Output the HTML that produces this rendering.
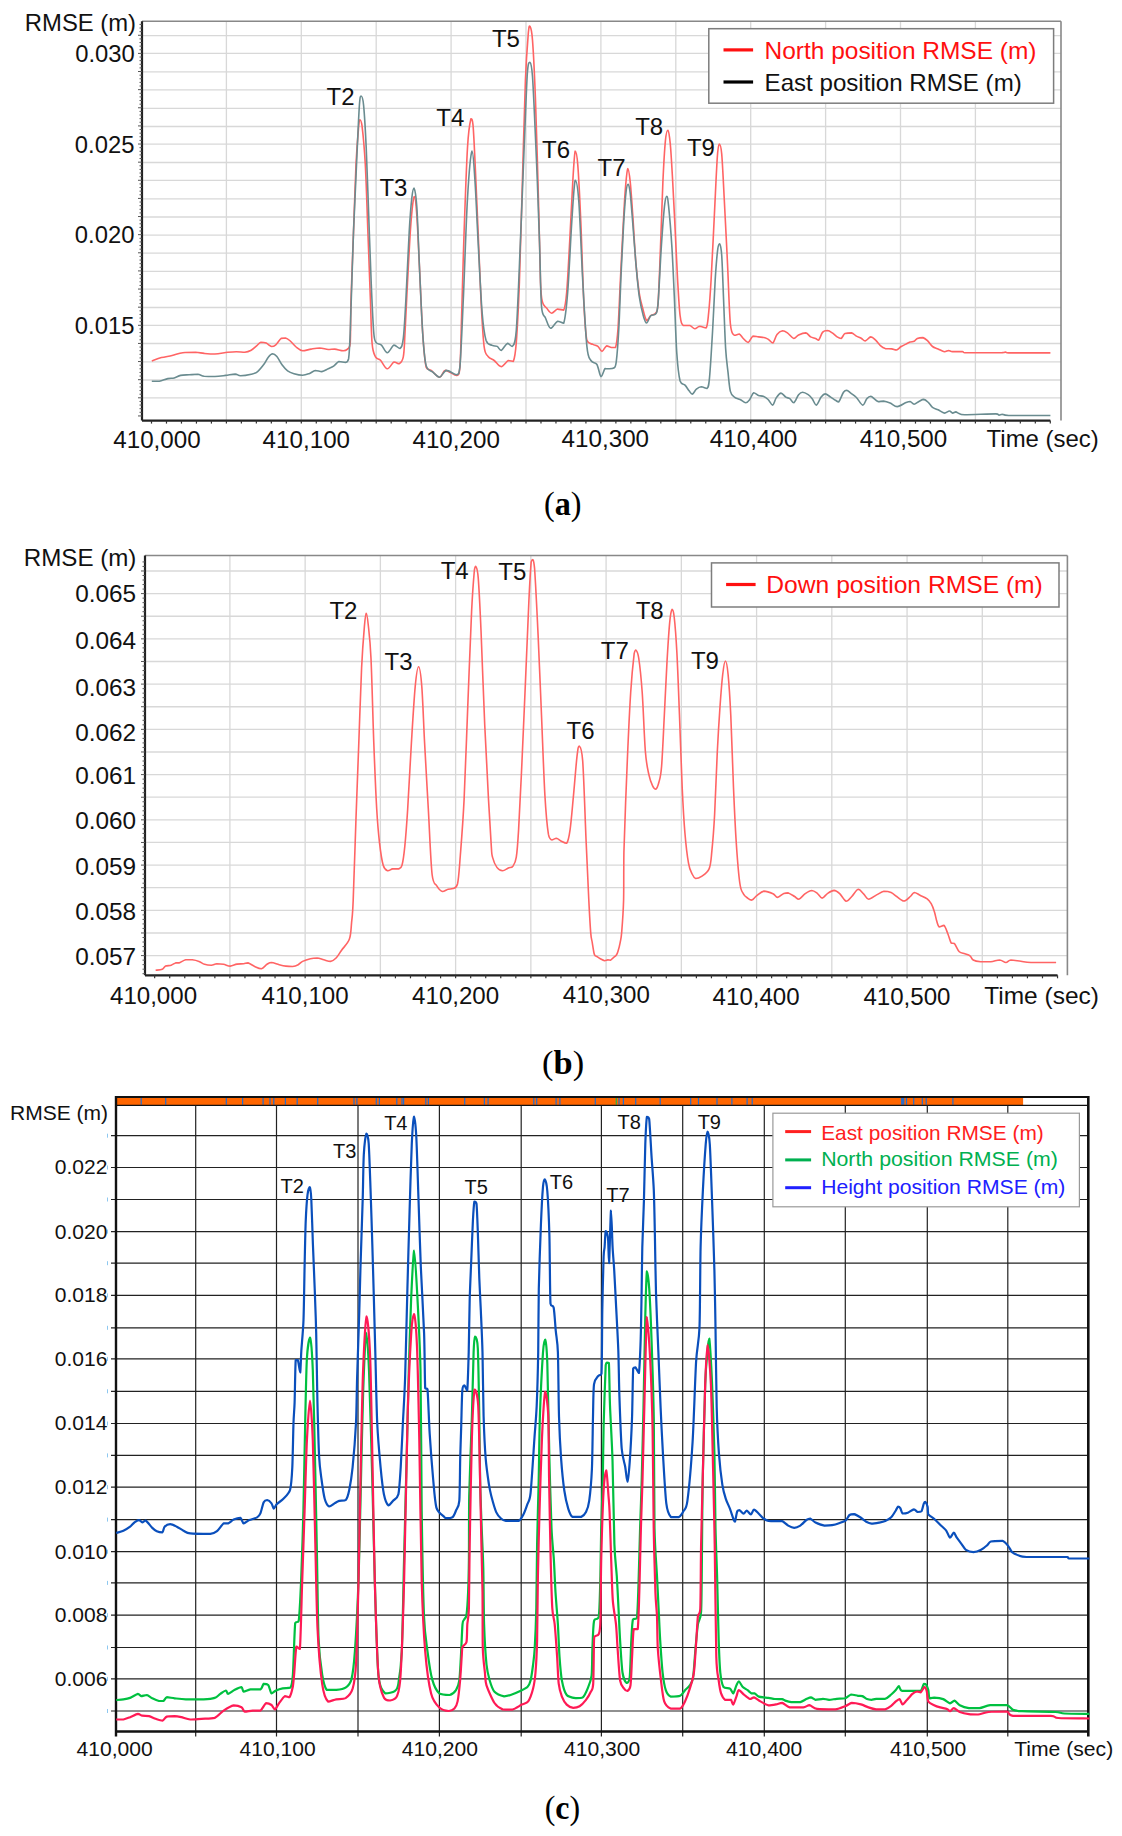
<!DOCTYPE html>
<html><head><meta charset="utf-8"><title>RMSE charts</title>
<style>html,body{margin:0;padding:0;background:#fff;}svg{display:block;}</style></head>
<body>
<svg width="1122" height="1836" viewBox="0 0 1122 1836">
<rect x="0" y="0" width="1122" height="1836" fill="#fff"/>
<line x1="142.00" y1="35.70" x2="1061.00" y2="35.70" stroke="#d8d8d8" stroke-width="1.3"/>
<line x1="142.00" y1="53.40" x2="1061.00" y2="53.40" stroke="#d8d8d8" stroke-width="1.3"/>
<line x1="142.00" y1="71.90" x2="1061.00" y2="71.90" stroke="#d8d8d8" stroke-width="1.3"/>
<line x1="142.00" y1="89.80" x2="1061.00" y2="89.80" stroke="#d8d8d8" stroke-width="1.3"/>
<line x1="142.00" y1="108.30" x2="1061.00" y2="108.30" stroke="#d8d8d8" stroke-width="1.3"/>
<line x1="142.00" y1="126.50" x2="1061.00" y2="126.50" stroke="#d8d8d8" stroke-width="1.3"/>
<line x1="142.00" y1="144.20" x2="1061.00" y2="144.20" stroke="#d8d8d8" stroke-width="1.3"/>
<line x1="142.00" y1="162.50" x2="1061.00" y2="162.50" stroke="#d8d8d8" stroke-width="1.3"/>
<line x1="142.00" y1="180.40" x2="1061.00" y2="180.40" stroke="#d8d8d8" stroke-width="1.3"/>
<line x1="142.00" y1="198.90" x2="1061.00" y2="198.90" stroke="#d8d8d8" stroke-width="1.3"/>
<line x1="142.00" y1="217.00" x2="1061.00" y2="217.00" stroke="#d8d8d8" stroke-width="1.3"/>
<line x1="142.00" y1="235.10" x2="1061.00" y2="235.10" stroke="#d8d8d8" stroke-width="1.3"/>
<line x1="142.00" y1="253.10" x2="1061.00" y2="253.10" stroke="#d8d8d8" stroke-width="1.3"/>
<line x1="142.00" y1="271.30" x2="1061.00" y2="271.30" stroke="#d8d8d8" stroke-width="1.3"/>
<line x1="142.00" y1="289.10" x2="1061.00" y2="289.10" stroke="#d8d8d8" stroke-width="1.3"/>
<line x1="142.00" y1="307.50" x2="1061.00" y2="307.50" stroke="#d8d8d8" stroke-width="1.3"/>
<line x1="142.00" y1="325.30" x2="1061.00" y2="325.30" stroke="#d8d8d8" stroke-width="1.3"/>
<line x1="142.00" y1="343.50" x2="1061.00" y2="343.50" stroke="#d8d8d8" stroke-width="1.3"/>
<line x1="142.00" y1="361.90" x2="1061.00" y2="361.90" stroke="#d8d8d8" stroke-width="1.3"/>
<line x1="142.00" y1="380.00" x2="1061.00" y2="380.00" stroke="#d8d8d8" stroke-width="1.3"/>
<line x1="142.00" y1="397.90" x2="1061.00" y2="397.90" stroke="#d8d8d8" stroke-width="1.3"/>
<line x1="226.40" y1="21.20" x2="226.40" y2="420.60" stroke="#d8d8d8" stroke-width="1.3"/>
<line x1="301.30" y1="21.20" x2="301.30" y2="420.60" stroke="#d8d8d8" stroke-width="1.3"/>
<line x1="376.20" y1="21.20" x2="376.20" y2="420.60" stroke="#d8d8d8" stroke-width="1.3"/>
<line x1="451.10" y1="21.20" x2="451.10" y2="420.60" stroke="#d8d8d8" stroke-width="1.3"/>
<line x1="526.00" y1="21.20" x2="526.00" y2="420.60" stroke="#d8d8d8" stroke-width="1.3"/>
<line x1="600.90" y1="21.20" x2="600.90" y2="420.60" stroke="#d8d8d8" stroke-width="1.3"/>
<line x1="675.80" y1="21.20" x2="675.80" y2="420.60" stroke="#d8d8d8" stroke-width="1.3"/>
<line x1="750.70" y1="21.20" x2="750.70" y2="420.60" stroke="#d8d8d8" stroke-width="1.3"/>
<line x1="825.60" y1="21.20" x2="825.60" y2="420.60" stroke="#d8d8d8" stroke-width="1.3"/>
<line x1="900.50" y1="21.20" x2="900.50" y2="420.60" stroke="#d8d8d8" stroke-width="1.3"/>
<line x1="975.40" y1="21.20" x2="975.40" y2="420.60" stroke="#d8d8d8" stroke-width="1.3"/>
<line x1="142.00" y1="21.20" x2="1061.00" y2="21.20" stroke="#888" stroke-width="1.6"/>
<line x1="1061.00" y1="21.20" x2="1061.00" y2="420.60" stroke="#888" stroke-width="1.6"/>
<line x1="142.00" y1="21.20" x2="142.00" y2="420.60" stroke="#222" stroke-width="2.2"/>
<line x1="142.00" y1="420.60" x2="1050.30" y2="420.60" stroke="#222" stroke-width="2.2"/>
<line x1="151.50" y1="420.60" x2="151.50" y2="423.60" stroke="#333" stroke-width="1.2"/>
<line x1="166.48" y1="420.60" x2="166.48" y2="423.60" stroke="#333" stroke-width="1.2"/>
<line x1="181.46" y1="420.60" x2="181.46" y2="423.60" stroke="#333" stroke-width="1.2"/>
<line x1="196.44" y1="420.60" x2="196.44" y2="423.60" stroke="#333" stroke-width="1.2"/>
<line x1="211.42" y1="420.60" x2="211.42" y2="423.60" stroke="#333" stroke-width="1.2"/>
<line x1="226.40" y1="420.60" x2="226.40" y2="423.60" stroke="#333" stroke-width="1.2"/>
<line x1="241.38" y1="420.60" x2="241.38" y2="423.60" stroke="#333" stroke-width="1.2"/>
<line x1="256.36" y1="420.60" x2="256.36" y2="423.60" stroke="#333" stroke-width="1.2"/>
<line x1="271.34" y1="420.60" x2="271.34" y2="423.60" stroke="#333" stroke-width="1.2"/>
<line x1="286.32" y1="420.60" x2="286.32" y2="423.60" stroke="#333" stroke-width="1.2"/>
<line x1="301.30" y1="420.60" x2="301.30" y2="423.60" stroke="#333" stroke-width="1.2"/>
<line x1="316.28" y1="420.60" x2="316.28" y2="423.60" stroke="#333" stroke-width="1.2"/>
<line x1="331.26" y1="420.60" x2="331.26" y2="423.60" stroke="#333" stroke-width="1.2"/>
<line x1="346.24" y1="420.60" x2="346.24" y2="423.60" stroke="#333" stroke-width="1.2"/>
<line x1="361.22" y1="420.60" x2="361.22" y2="423.60" stroke="#333" stroke-width="1.2"/>
<line x1="376.20" y1="420.60" x2="376.20" y2="423.60" stroke="#333" stroke-width="1.2"/>
<line x1="391.18" y1="420.60" x2="391.18" y2="423.60" stroke="#333" stroke-width="1.2"/>
<line x1="406.16" y1="420.60" x2="406.16" y2="423.60" stroke="#333" stroke-width="1.2"/>
<line x1="421.14" y1="420.60" x2="421.14" y2="423.60" stroke="#333" stroke-width="1.2"/>
<line x1="436.12" y1="420.60" x2="436.12" y2="423.60" stroke="#333" stroke-width="1.2"/>
<line x1="451.10" y1="420.60" x2="451.10" y2="423.60" stroke="#333" stroke-width="1.2"/>
<line x1="466.08" y1="420.60" x2="466.08" y2="423.60" stroke="#333" stroke-width="1.2"/>
<line x1="481.06" y1="420.60" x2="481.06" y2="423.60" stroke="#333" stroke-width="1.2"/>
<line x1="496.04" y1="420.60" x2="496.04" y2="423.60" stroke="#333" stroke-width="1.2"/>
<line x1="511.02" y1="420.60" x2="511.02" y2="423.60" stroke="#333" stroke-width="1.2"/>
<line x1="526.00" y1="420.60" x2="526.00" y2="423.60" stroke="#333" stroke-width="1.2"/>
<line x1="540.98" y1="420.60" x2="540.98" y2="423.60" stroke="#333" stroke-width="1.2"/>
<line x1="555.96" y1="420.60" x2="555.96" y2="423.60" stroke="#333" stroke-width="1.2"/>
<line x1="570.94" y1="420.60" x2="570.94" y2="423.60" stroke="#333" stroke-width="1.2"/>
<line x1="585.92" y1="420.60" x2="585.92" y2="423.60" stroke="#333" stroke-width="1.2"/>
<line x1="600.90" y1="420.60" x2="600.90" y2="423.60" stroke="#333" stroke-width="1.2"/>
<line x1="615.88" y1="420.60" x2="615.88" y2="423.60" stroke="#333" stroke-width="1.2"/>
<line x1="630.86" y1="420.60" x2="630.86" y2="423.60" stroke="#333" stroke-width="1.2"/>
<line x1="645.84" y1="420.60" x2="645.84" y2="423.60" stroke="#333" stroke-width="1.2"/>
<line x1="660.82" y1="420.60" x2="660.82" y2="423.60" stroke="#333" stroke-width="1.2"/>
<line x1="675.80" y1="420.60" x2="675.80" y2="423.60" stroke="#333" stroke-width="1.2"/>
<line x1="690.78" y1="420.60" x2="690.78" y2="423.60" stroke="#333" stroke-width="1.2"/>
<line x1="705.76" y1="420.60" x2="705.76" y2="423.60" stroke="#333" stroke-width="1.2"/>
<line x1="720.74" y1="420.60" x2="720.74" y2="423.60" stroke="#333" stroke-width="1.2"/>
<line x1="735.72" y1="420.60" x2="735.72" y2="423.60" stroke="#333" stroke-width="1.2"/>
<line x1="750.70" y1="420.60" x2="750.70" y2="423.60" stroke="#333" stroke-width="1.2"/>
<line x1="765.68" y1="420.60" x2="765.68" y2="423.60" stroke="#333" stroke-width="1.2"/>
<line x1="780.66" y1="420.60" x2="780.66" y2="423.60" stroke="#333" stroke-width="1.2"/>
<line x1="795.64" y1="420.60" x2="795.64" y2="423.60" stroke="#333" stroke-width="1.2"/>
<line x1="810.62" y1="420.60" x2="810.62" y2="423.60" stroke="#333" stroke-width="1.2"/>
<line x1="825.60" y1="420.60" x2="825.60" y2="423.60" stroke="#333" stroke-width="1.2"/>
<line x1="840.58" y1="420.60" x2="840.58" y2="423.60" stroke="#333" stroke-width="1.2"/>
<line x1="855.56" y1="420.60" x2="855.56" y2="423.60" stroke="#333" stroke-width="1.2"/>
<line x1="870.54" y1="420.60" x2="870.54" y2="423.60" stroke="#333" stroke-width="1.2"/>
<line x1="885.52" y1="420.60" x2="885.52" y2="423.60" stroke="#333" stroke-width="1.2"/>
<line x1="900.50" y1="420.60" x2="900.50" y2="423.60" stroke="#333" stroke-width="1.2"/>
<line x1="915.48" y1="420.60" x2="915.48" y2="423.60" stroke="#333" stroke-width="1.2"/>
<line x1="930.46" y1="420.60" x2="930.46" y2="423.60" stroke="#333" stroke-width="1.2"/>
<line x1="945.44" y1="420.60" x2="945.44" y2="423.60" stroke="#333" stroke-width="1.2"/>
<line x1="960.42" y1="420.60" x2="960.42" y2="423.60" stroke="#333" stroke-width="1.2"/>
<line x1="975.40" y1="420.60" x2="975.40" y2="423.60" stroke="#333" stroke-width="1.2"/>
<line x1="990.38" y1="420.60" x2="990.38" y2="423.60" stroke="#333" stroke-width="1.2"/>
<line x1="1005.36" y1="420.60" x2="1005.36" y2="423.60" stroke="#333" stroke-width="1.2"/>
<line x1="1020.34" y1="420.60" x2="1020.34" y2="423.60" stroke="#333" stroke-width="1.2"/>
<line x1="1035.32" y1="420.60" x2="1035.32" y2="423.60" stroke="#333" stroke-width="1.2"/>
<line x1="1050.30" y1="420.60" x2="1050.30" y2="423.60" stroke="#333" stroke-width="1.2"/>
<line x1="138.00" y1="415.94" x2="142.00" y2="415.94" stroke="#555" stroke-width="1.0"/>
<line x1="139.50" y1="412.31" x2="142.00" y2="412.31" stroke="#555" stroke-width="1.0"/>
<line x1="139.50" y1="408.69" x2="142.00" y2="408.69" stroke="#555" stroke-width="1.0"/>
<line x1="139.50" y1="405.06" x2="142.00" y2="405.06" stroke="#555" stroke-width="1.0"/>
<line x1="139.50" y1="401.44" x2="142.00" y2="401.44" stroke="#555" stroke-width="1.0"/>
<line x1="138.00" y1="397.81" x2="142.00" y2="397.81" stroke="#555" stroke-width="1.0"/>
<line x1="139.50" y1="394.19" x2="142.00" y2="394.19" stroke="#555" stroke-width="1.0"/>
<line x1="139.50" y1="390.56" x2="142.00" y2="390.56" stroke="#555" stroke-width="1.0"/>
<line x1="139.50" y1="386.94" x2="142.00" y2="386.94" stroke="#555" stroke-width="1.0"/>
<line x1="139.50" y1="383.31" x2="142.00" y2="383.31" stroke="#555" stroke-width="1.0"/>
<line x1="138.00" y1="379.69" x2="142.00" y2="379.69" stroke="#555" stroke-width="1.0"/>
<line x1="139.50" y1="376.06" x2="142.00" y2="376.06" stroke="#555" stroke-width="1.0"/>
<line x1="139.50" y1="372.44" x2="142.00" y2="372.44" stroke="#555" stroke-width="1.0"/>
<line x1="139.50" y1="368.81" x2="142.00" y2="368.81" stroke="#555" stroke-width="1.0"/>
<line x1="139.50" y1="365.18" x2="142.00" y2="365.18" stroke="#555" stroke-width="1.0"/>
<line x1="138.00" y1="361.56" x2="142.00" y2="361.56" stroke="#555" stroke-width="1.0"/>
<line x1="139.50" y1="357.93" x2="142.00" y2="357.93" stroke="#555" stroke-width="1.0"/>
<line x1="139.50" y1="354.31" x2="142.00" y2="354.31" stroke="#555" stroke-width="1.0"/>
<line x1="139.50" y1="350.68" x2="142.00" y2="350.68" stroke="#555" stroke-width="1.0"/>
<line x1="139.50" y1="347.06" x2="142.00" y2="347.06" stroke="#555" stroke-width="1.0"/>
<line x1="138.00" y1="343.43" x2="142.00" y2="343.43" stroke="#555" stroke-width="1.0"/>
<line x1="139.50" y1="339.81" x2="142.00" y2="339.81" stroke="#555" stroke-width="1.0"/>
<line x1="139.50" y1="336.18" x2="142.00" y2="336.18" stroke="#555" stroke-width="1.0"/>
<line x1="139.50" y1="332.56" x2="142.00" y2="332.56" stroke="#555" stroke-width="1.0"/>
<line x1="139.50" y1="328.93" x2="142.00" y2="328.93" stroke="#555" stroke-width="1.0"/>
<line x1="138.00" y1="325.30" x2="142.00" y2="325.30" stroke="#555" stroke-width="1.0"/>
<line x1="139.50" y1="321.68" x2="142.00" y2="321.68" stroke="#555" stroke-width="1.0"/>
<line x1="139.50" y1="318.05" x2="142.00" y2="318.05" stroke="#555" stroke-width="1.0"/>
<line x1="139.50" y1="314.43" x2="142.00" y2="314.43" stroke="#555" stroke-width="1.0"/>
<line x1="139.50" y1="310.80" x2="142.00" y2="310.80" stroke="#555" stroke-width="1.0"/>
<line x1="138.00" y1="307.18" x2="142.00" y2="307.18" stroke="#555" stroke-width="1.0"/>
<line x1="139.50" y1="303.55" x2="142.00" y2="303.55" stroke="#555" stroke-width="1.0"/>
<line x1="139.50" y1="299.93" x2="142.00" y2="299.93" stroke="#555" stroke-width="1.0"/>
<line x1="139.50" y1="296.30" x2="142.00" y2="296.30" stroke="#555" stroke-width="1.0"/>
<line x1="139.50" y1="292.68" x2="142.00" y2="292.68" stroke="#555" stroke-width="1.0"/>
<line x1="138.00" y1="289.05" x2="142.00" y2="289.05" stroke="#555" stroke-width="1.0"/>
<line x1="139.50" y1="285.43" x2="142.00" y2="285.43" stroke="#555" stroke-width="1.0"/>
<line x1="139.50" y1="281.80" x2="142.00" y2="281.80" stroke="#555" stroke-width="1.0"/>
<line x1="139.50" y1="278.17" x2="142.00" y2="278.17" stroke="#555" stroke-width="1.0"/>
<line x1="139.50" y1="274.55" x2="142.00" y2="274.55" stroke="#555" stroke-width="1.0"/>
<line x1="138.00" y1="270.92" x2="142.00" y2="270.92" stroke="#555" stroke-width="1.0"/>
<line x1="139.50" y1="267.30" x2="142.00" y2="267.30" stroke="#555" stroke-width="1.0"/>
<line x1="139.50" y1="263.67" x2="142.00" y2="263.67" stroke="#555" stroke-width="1.0"/>
<line x1="139.50" y1="260.05" x2="142.00" y2="260.05" stroke="#555" stroke-width="1.0"/>
<line x1="139.50" y1="256.42" x2="142.00" y2="256.42" stroke="#555" stroke-width="1.0"/>
<line x1="138.00" y1="252.80" x2="142.00" y2="252.80" stroke="#555" stroke-width="1.0"/>
<line x1="139.50" y1="249.17" x2="142.00" y2="249.17" stroke="#555" stroke-width="1.0"/>
<line x1="139.50" y1="245.55" x2="142.00" y2="245.55" stroke="#555" stroke-width="1.0"/>
<line x1="139.50" y1="241.92" x2="142.00" y2="241.92" stroke="#555" stroke-width="1.0"/>
<line x1="139.50" y1="238.30" x2="142.00" y2="238.30" stroke="#555" stroke-width="1.0"/>
<line x1="138.00" y1="234.67" x2="142.00" y2="234.67" stroke="#555" stroke-width="1.0"/>
<line x1="139.50" y1="231.04" x2="142.00" y2="231.04" stroke="#555" stroke-width="1.0"/>
<line x1="139.50" y1="227.42" x2="142.00" y2="227.42" stroke="#555" stroke-width="1.0"/>
<line x1="139.50" y1="223.79" x2="142.00" y2="223.79" stroke="#555" stroke-width="1.0"/>
<line x1="139.50" y1="220.17" x2="142.00" y2="220.17" stroke="#555" stroke-width="1.0"/>
<line x1="138.00" y1="216.54" x2="142.00" y2="216.54" stroke="#555" stroke-width="1.0"/>
<line x1="139.50" y1="212.92" x2="142.00" y2="212.92" stroke="#555" stroke-width="1.0"/>
<line x1="139.50" y1="209.29" x2="142.00" y2="209.29" stroke="#555" stroke-width="1.0"/>
<line x1="139.50" y1="205.67" x2="142.00" y2="205.67" stroke="#555" stroke-width="1.0"/>
<line x1="139.50" y1="202.04" x2="142.00" y2="202.04" stroke="#555" stroke-width="1.0"/>
<line x1="138.00" y1="198.42" x2="142.00" y2="198.42" stroke="#555" stroke-width="1.0"/>
<line x1="139.50" y1="194.79" x2="142.00" y2="194.79" stroke="#555" stroke-width="1.0"/>
<line x1="139.50" y1="191.17" x2="142.00" y2="191.17" stroke="#555" stroke-width="1.0"/>
<line x1="139.50" y1="187.54" x2="142.00" y2="187.54" stroke="#555" stroke-width="1.0"/>
<line x1="139.50" y1="183.91" x2="142.00" y2="183.91" stroke="#555" stroke-width="1.0"/>
<line x1="138.00" y1="180.29" x2="142.00" y2="180.29" stroke="#555" stroke-width="1.0"/>
<line x1="139.50" y1="176.66" x2="142.00" y2="176.66" stroke="#555" stroke-width="1.0"/>
<line x1="139.50" y1="173.04" x2="142.00" y2="173.04" stroke="#555" stroke-width="1.0"/>
<line x1="139.50" y1="169.41" x2="142.00" y2="169.41" stroke="#555" stroke-width="1.0"/>
<line x1="139.50" y1="165.79" x2="142.00" y2="165.79" stroke="#555" stroke-width="1.0"/>
<line x1="138.00" y1="162.16" x2="142.00" y2="162.16" stroke="#555" stroke-width="1.0"/>
<line x1="139.50" y1="158.54" x2="142.00" y2="158.54" stroke="#555" stroke-width="1.0"/>
<line x1="139.50" y1="154.91" x2="142.00" y2="154.91" stroke="#555" stroke-width="1.0"/>
<line x1="139.50" y1="151.29" x2="142.00" y2="151.29" stroke="#555" stroke-width="1.0"/>
<line x1="139.50" y1="147.66" x2="142.00" y2="147.66" stroke="#555" stroke-width="1.0"/>
<line x1="138.00" y1="144.03" x2="142.00" y2="144.03" stroke="#555" stroke-width="1.0"/>
<line x1="139.50" y1="140.41" x2="142.00" y2="140.41" stroke="#555" stroke-width="1.0"/>
<line x1="139.50" y1="136.78" x2="142.00" y2="136.78" stroke="#555" stroke-width="1.0"/>
<line x1="139.50" y1="133.16" x2="142.00" y2="133.16" stroke="#555" stroke-width="1.0"/>
<line x1="139.50" y1="129.53" x2="142.00" y2="129.53" stroke="#555" stroke-width="1.0"/>
<line x1="138.00" y1="125.91" x2="142.00" y2="125.91" stroke="#555" stroke-width="1.0"/>
<line x1="139.50" y1="122.28" x2="142.00" y2="122.28" stroke="#555" stroke-width="1.0"/>
<line x1="139.50" y1="118.66" x2="142.00" y2="118.66" stroke="#555" stroke-width="1.0"/>
<line x1="139.50" y1="115.03" x2="142.00" y2="115.03" stroke="#555" stroke-width="1.0"/>
<line x1="139.50" y1="111.41" x2="142.00" y2="111.41" stroke="#555" stroke-width="1.0"/>
<line x1="138.00" y1="107.78" x2="142.00" y2="107.78" stroke="#555" stroke-width="1.0"/>
<line x1="139.50" y1="104.16" x2="142.00" y2="104.16" stroke="#555" stroke-width="1.0"/>
<line x1="139.50" y1="100.53" x2="142.00" y2="100.53" stroke="#555" stroke-width="1.0"/>
<line x1="139.50" y1="96.90" x2="142.00" y2="96.90" stroke="#555" stroke-width="1.0"/>
<line x1="139.50" y1="93.28" x2="142.00" y2="93.28" stroke="#555" stroke-width="1.0"/>
<line x1="138.00" y1="89.65" x2="142.00" y2="89.65" stroke="#555" stroke-width="1.0"/>
<line x1="139.50" y1="86.03" x2="142.00" y2="86.03" stroke="#555" stroke-width="1.0"/>
<line x1="139.50" y1="82.40" x2="142.00" y2="82.40" stroke="#555" stroke-width="1.0"/>
<line x1="139.50" y1="78.78" x2="142.00" y2="78.78" stroke="#555" stroke-width="1.0"/>
<line x1="139.50" y1="75.15" x2="142.00" y2="75.15" stroke="#555" stroke-width="1.0"/>
<line x1="138.00" y1="71.53" x2="142.00" y2="71.53" stroke="#555" stroke-width="1.0"/>
<line x1="139.50" y1="67.90" x2="142.00" y2="67.90" stroke="#555" stroke-width="1.0"/>
<line x1="139.50" y1="64.28" x2="142.00" y2="64.28" stroke="#555" stroke-width="1.0"/>
<line x1="139.50" y1="60.65" x2="142.00" y2="60.65" stroke="#555" stroke-width="1.0"/>
<line x1="139.50" y1="57.03" x2="142.00" y2="57.03" stroke="#555" stroke-width="1.0"/>
<line x1="138.00" y1="53.40" x2="142.00" y2="53.40" stroke="#555" stroke-width="1.0"/>
<line x1="139.50" y1="49.77" x2="142.00" y2="49.77" stroke="#555" stroke-width="1.0"/>
<line x1="139.50" y1="46.15" x2="142.00" y2="46.15" stroke="#555" stroke-width="1.0"/>
<line x1="139.50" y1="42.52" x2="142.00" y2="42.52" stroke="#555" stroke-width="1.0"/>
<line x1="139.50" y1="38.90" x2="142.00" y2="38.90" stroke="#555" stroke-width="1.0"/>
<line x1="138.00" y1="35.27" x2="142.00" y2="35.27" stroke="#555" stroke-width="1.0"/>
<line x1="139.50" y1="31.65" x2="142.00" y2="31.65" stroke="#555" stroke-width="1.0"/>
<line x1="139.50" y1="28.02" x2="142.00" y2="28.02" stroke="#555" stroke-width="1.0"/>
<line x1="139.50" y1="24.40" x2="142.00" y2="24.40" stroke="#555" stroke-width="1.0"/>
<path d="M151.80,360.90C153.40,360.35 158.02,358.50 161.40,357.60C164.78,356.70 168.53,356.32 172.10,355.50C175.67,354.68 178.88,353.23 182.80,352.70C186.72,352.30 192.03,352.30 195.60,352.30C199.17,352.42 200.98,353.12 204.20,353.40C207.42,353.68 210.98,354.00 214.90,354.00C218.82,353.82 224.13,352.68 227.70,352.30C231.27,351.92 233.45,351.70 236.30,351.70C239.15,351.70 242.32,352.30 244.80,352.30C247.28,352.05 249.23,351.27 251.20,350.20C253.17,349.13 254.98,347.23 256.60,345.90C258.22,344.57 259.30,342.67 260.90,342.20C262.50,342.20 264.42,342.38 266.20,343.10C267.98,343.82 270.00,346.22 271.60,346.50C273.20,346.50 274.20,346.15 275.80,344.80C277.40,343.45 279.58,339.53 281.20,338.40C282.82,338.00 284.08,338.00 285.50,338.00C286.92,338.35 287.93,339.00 289.70,340.50C291.47,342.00 293.95,345.28 296.10,347.00C298.25,348.72 300.10,350.45 302.60,350.80C305.10,350.80 308.25,349.57 311.10,349.10C313.95,348.63 316.85,348.00 319.70,348.00C322.55,348.07 325.70,349.32 328.20,349.50C330.70,349.50 332.20,349.10 334.70,349.10C337.20,349.32 341.07,350.80 343.20,350.80C345.33,350.80 346.33,350.33 347.50,349.10C348.67,347.87 349.62,349.10 350.20,343.40C350.78,335.13 350.45,318.07 351.00,299.50C351.55,280.93 352.67,254.52 353.50,232.00C354.33,209.48 355.15,181.85 356.00,164.40C356.85,146.95 357.95,134.75 358.60,127.30C359.25,119.85 359.33,119.98 359.90,119.70C360.47,119.70 361.10,119.70 362.00,125.60C362.90,133.05 364.32,146.67 365.30,164.40C366.28,182.13 367.05,209.48 367.90,232.00C368.75,254.52 369.70,280.93 370.40,299.50C371.10,318.07 371.25,333.83 372.10,343.40C372.95,352.97 374.10,354.08 375.50,356.90C376.90,359.72 378.53,358.32 380.50,360.30C382.47,362.28 385.05,368.52 387.30,368.80C389.55,368.80 392.03,362.85 394.00,362.00C395.97,362.00 397.55,363.70 399.10,363.70C400.65,362.85 402.32,361.97 403.30,356.90C404.28,351.83 404.30,345.68 405.00,333.30C405.70,320.92 406.52,300.90 407.50,282.60C408.48,264.30 409.77,237.85 410.90,223.50C412.03,209.15 413.32,197.90 414.30,196.50C415.28,196.50 415.95,203.57 416.80,215.10C417.65,226.63 418.42,246.00 419.40,265.70C420.38,285.40 421.58,316.40 422.70,333.30C423.82,350.20 424.68,360.92 426.10,367.10C427.52,370.40 428.95,368.72 431.20,370.40C433.45,372.08 437.22,377.20 439.60,377.20C441.98,377.20 442.68,370.68 445.50,370.40C448.32,370.40 454.10,375.50 456.50,375.50C458.90,374.95 459.05,375.50 459.90,367.10C460.75,357.25 460.90,338.92 461.60,316.40C462.30,293.88 463.12,260.15 464.10,232.00C465.08,203.85 466.37,166.37 467.50,147.50C468.63,128.63 469.98,122.58 470.90,118.80C471.82,118.80 472.32,118.80 473.00,124.80C473.68,131.83 474.15,143.20 475.00,161.00C475.85,178.80 477.08,208.08 478.10,231.60C479.12,255.12 480.10,282.97 481.10,302.10C482.10,321.23 482.93,337.33 484.10,346.40C485.27,355.47 486.42,354.15 488.10,356.50C489.78,358.85 492.02,358.82 494.20,360.50C496.38,362.18 498.85,366.60 501.20,366.60C503.55,366.60 506.28,361.35 508.30,360.50C510.32,360.50 511.97,361.50 513.30,361.50C514.63,358.48 515.28,355.67 516.30,342.40C517.32,329.13 518.38,308.77 519.40,281.90C520.42,255.03 521.40,214.78 522.40,181.20C523.40,147.62 524.40,105.25 525.40,80.40C526.40,55.55 527.67,41.17 528.40,32.10C529.13,26.00 529.12,26.00 529.80,26.00C530.48,27.33 531.55,27.67 532.50,40.10C533.45,52.53 534.50,73.73 535.50,100.60C536.50,127.47 537.67,171.08 538.50,201.30C539.33,231.52 539.83,265.10 540.50,281.90C541.17,298.70 541.48,297.73 542.50,302.10C543.52,306.47 545.08,306.25 546.60,308.10C548.12,309.95 549.77,313.03 551.60,313.20C553.43,313.20 555.58,309.62 557.60,309.10C559.62,309.10 562.18,310.10 563.70,310.10C565.22,307.25 565.70,303.42 566.70,292.00C567.70,280.58 568.68,260.07 569.70,241.60C570.72,223.13 571.88,196.30 572.80,181.20C573.72,166.10 574.37,153.68 575.20,151.00C576.03,151.00 576.87,153.35 577.80,165.10C578.73,176.85 579.80,198.67 580.80,221.50C581.80,244.33 582.78,282.28 583.80,302.10C584.82,321.92 585.38,333.35 586.90,340.40C588.42,344.40 591.07,343.40 592.90,344.40C594.73,345.40 596.38,345.23 597.90,346.40C599.42,347.57 600.57,351.40 602.00,351.40C603.43,351.32 604.93,346.55 606.50,345.90C608.07,345.90 609.90,347.23 611.40,347.50C612.90,347.50 614.40,347.50 615.50,347.50C616.60,344.38 617.18,340.10 618.00,328.80C618.82,317.50 619.58,296.05 620.40,279.70C621.22,263.35 622.08,245.67 622.90,230.70C623.72,215.73 624.48,200.25 625.30,189.90C626.12,179.55 626.98,169.97 627.80,168.60C628.62,168.60 629.38,174.07 630.20,181.70C631.02,189.33 631.75,200.78 632.70,214.40C633.65,228.02 634.82,250.33 635.90,263.40C636.98,276.47 638.10,285.45 639.20,292.80C640.30,300.15 641.27,302.87 642.50,307.50C643.73,312.13 645.23,319.23 646.60,320.60C647.97,320.60 649.20,316.93 650.70,315.70C652.20,314.47 654.38,315.12 655.60,313.20C656.82,311.28 657.18,313.20 658.00,304.20C658.82,293.18 659.68,267.52 660.50,247.10C661.32,226.68 662.08,199.42 662.90,181.70C663.72,163.98 664.58,149.38 665.40,140.80C666.22,132.22 666.98,130.20 667.80,130.20C668.62,130.75 669.48,135.52 670.30,144.10C671.12,152.68 671.88,167.27 672.70,181.70C673.52,196.13 674.38,214.37 675.20,230.70C676.02,247.03 676.78,265.53 677.60,279.70C678.42,293.87 679.15,308.07 680.10,315.70C681.05,323.33 681.67,323.87 683.30,325.50C684.93,325.50 687.98,325.50 689.90,325.50C691.82,326.05 693.17,328.67 694.80,328.80C696.43,328.80 697.80,326.45 699.70,326.30C701.60,326.30 704.70,327.90 706.20,327.90C707.70,325.58 707.88,320.43 708.70,312.40C709.52,304.37 710.15,296.03 711.10,279.70C712.05,263.37 713.37,234.82 714.40,214.40C715.43,193.98 716.48,168.92 717.30,157.20C718.12,145.48 718.57,144.65 719.30,144.10C720.03,144.10 720.88,144.92 721.70,153.90C722.52,162.88 723.23,179.75 724.20,198.00C725.17,216.25 726.47,242.38 727.50,263.40C728.53,284.42 729.25,312.12 730.40,324.10C731.55,335.30 732.92,333.65 734.40,335.30C735.88,335.30 737.82,334.00 739.30,334.00C740.78,334.53 741.83,337.08 743.30,338.50C744.77,339.92 746.50,342.50 748.10,342.50C749.70,342.10 751.17,337.03 752.90,336.10C754.63,336.10 756.50,336.63 758.50,336.90C760.50,337.17 763.17,337.22 764.90,337.70C766.63,338.18 767.57,338.92 768.90,339.80C770.23,340.68 771.55,343.00 772.90,343.00C774.25,342.12 775.38,336.53 777.00,334.50C778.62,332.47 780.87,331.07 782.60,330.80C784.33,330.80 785.53,331.62 787.40,332.90C789.27,334.18 791.93,338.15 793.80,338.50C795.67,338.50 796.60,335.93 798.60,335.00C800.60,334.07 803.80,332.90 805.80,332.90C807.80,333.22 808.98,335.97 810.60,336.90C812.22,337.83 814.15,337.97 815.50,338.50C816.85,339.03 817.50,340.10 818.70,340.10C819.90,339.03 821.23,333.70 822.70,332.10C824.17,330.50 825.90,330.50 827.50,330.50C829.10,330.63 830.70,331.83 832.30,332.90C833.90,333.97 835.63,335.97 837.10,336.90C838.57,337.83 839.77,338.50 841.10,338.50C842.43,337.92 843.35,334.33 845.10,333.40C846.85,332.90 849.72,332.90 851.60,332.90C853.48,333.35 854.80,335.22 856.40,336.10C858.00,336.98 859.73,337.40 861.20,338.20C862.67,339.00 863.60,340.90 865.20,340.90C866.80,340.68 869.07,337.03 870.80,336.90C872.53,336.90 874.00,338.63 875.60,340.10C877.20,341.57 878.78,344.28 880.40,345.70C882.02,347.12 883.42,348.07 885.30,348.60C887.18,348.90 889.85,348.67 891.70,348.90C893.55,349.13 894.82,350.00 896.40,350.00C897.98,349.60 899.60,347.48 901.20,346.50C902.80,345.52 904.52,344.85 906.00,344.10C907.48,343.35 908.75,342.47 910.10,342.00C911.45,341.53 912.90,341.88 914.10,341.30C915.30,340.72 915.83,339.12 917.30,338.50C918.77,337.88 921.17,337.60 922.90,337.60C924.63,338.00 926.10,339.42 927.70,340.90C929.30,342.38 930.77,345.17 932.50,346.50C934.23,347.83 936.10,348.02 938.10,348.90C940.10,349.78 942.75,351.53 944.50,351.80C946.25,351.80 947.25,350.53 948.60,350.50C949.95,350.50 950.33,351.42 952.60,351.60C954.87,351.60 960.20,351.60 962.20,351.60C964.20,351.78 962.20,352.53 964.60,352.70C971.28,352.70 995.48,352.70 1002.30,352.60C1005.50,352.50 1004.43,352.10 1005.50,352.10C1006.57,352.15 1005.50,352.77 1008.70,352.90C1016.18,352.90 1043.45,352.90 1050.40,352.90" fill="none" stroke="#ff6464" stroke-width="1.6" stroke-linejoin="round"/>
<path d="M151.80,381.20C153.05,381.20 156.63,381.20 159.30,381.20C161.97,380.77 165.32,379.13 167.80,378.60C170.28,378.07 172.07,378.53 174.20,378.00C176.33,377.47 178.10,375.93 180.60,375.40C183.10,374.87 186.33,374.98 189.20,374.80C192.07,374.62 195.30,374.30 197.80,374.30C200.30,374.55 201.35,375.93 204.20,376.30C207.05,376.50 211.33,376.50 214.90,376.50C218.47,376.35 222.22,375.80 225.60,375.40C228.98,375.00 232.72,374.10 235.20,374.10C237.68,374.17 237.83,375.77 240.50,375.80C243.17,375.80 248.35,375.00 251.20,374.30C254.05,373.60 255.45,373.30 257.60,371.60C259.75,369.90 262.32,366.50 264.10,364.10C265.88,361.70 266.88,358.92 268.30,357.20C269.72,355.48 271.17,353.90 272.60,353.80C274.03,353.80 275.30,354.72 276.90,356.60C278.50,358.48 280.42,362.72 282.20,365.10C283.98,367.48 285.63,369.47 287.60,370.90C289.57,372.33 291.50,372.98 294.00,373.70C296.50,374.42 300.10,375.20 302.60,375.20C305.10,375.20 306.87,374.48 309.00,373.70C311.13,372.92 313.27,370.85 315.40,370.50C317.53,370.50 319.67,371.60 321.80,371.60C323.93,371.32 326.23,369.70 328.20,368.80C330.17,367.90 331.82,367.42 333.60,366.20C335.38,364.98 336.95,362.13 338.90,361.50C340.85,361.50 343.68,362.40 345.30,362.40C346.92,361.93 347.77,362.40 348.60,358.70C349.43,353.30 349.48,351.12 350.30,330.00C351.12,308.88 352.40,261.00 353.50,232.00C354.60,203.00 355.92,177.12 356.90,156.00C357.88,134.88 358.70,115.30 359.40,105.30C360.10,96.00 360.40,96.00 361.10,96.00C361.80,96.00 362.75,96.72 363.60,105.30C364.45,113.88 365.35,129.20 366.20,147.50C367.05,165.80 367.87,192.58 368.70,215.10C369.53,237.62 370.35,262.90 371.20,282.60C372.05,302.30 372.95,323.30 373.80,333.30C374.65,342.60 375.03,340.63 376.30,342.60C377.57,344.57 379.57,343.42 381.40,345.10C383.23,346.78 385.20,352.70 387.30,352.70C389.40,352.70 391.90,345.80 394.00,345.10C396.10,345.10 398.35,348.50 399.90,348.50C401.45,347.38 402.30,346.57 403.30,338.40C404.30,330.23 404.92,317.23 405.90,299.50C406.88,281.77 408.22,248.88 409.20,232.00C410.18,215.12 411.00,205.52 411.80,198.20C412.60,190.88 413.17,188.10 414.00,188.10C414.83,189.50 415.90,193.67 416.80,206.60C417.70,219.53 418.42,244.58 419.40,265.70C420.38,286.82 421.58,316.68 422.70,333.30C423.82,349.92 424.40,358.93 426.10,365.40C427.80,371.87 430.65,370.13 432.90,372.10C435.15,374.07 437.35,377.20 439.60,377.20C441.85,376.92 443.58,370.82 446.40,370.40C449.22,370.40 454.25,374.70 456.50,374.70C458.75,374.15 458.77,374.70 459.90,367.10C461.03,354.57 462.03,327.65 463.30,299.50C464.57,271.35 466.05,222.95 467.50,198.20C468.95,173.45 470.75,153.83 472.00,151.00C473.25,151.00 473.98,166.10 475.00,181.20C476.02,196.30 476.92,219.77 478.10,241.60C479.28,263.43 480.77,295.73 482.10,312.20C483.43,328.67 484.42,334.87 486.10,340.40C487.78,345.40 490.35,344.40 492.20,345.40C494.05,346.40 495.70,345.57 497.20,346.40C498.70,347.23 499.52,350.40 501.20,350.40C502.88,349.90 505.45,344.07 507.30,343.40C509.15,343.40 510.80,346.40 512.30,346.40C513.80,344.22 514.95,346.40 516.30,330.30C517.65,312.83 519.05,273.17 520.40,241.60C521.75,210.03 523.23,169.10 524.40,140.90C525.57,112.70 526.50,85.50 527.40,72.40C528.30,62.30 528.95,62.30 529.80,62.30C530.65,62.97 531.38,62.30 532.50,76.40C533.62,92.85 535.33,133.47 536.50,161.00C537.67,188.53 538.67,217.42 539.50,241.60C540.33,265.78 540.48,293.33 541.50,306.10C542.52,318.20 544.08,314.50 545.60,318.20C547.12,321.90 548.60,327.80 550.60,328.30C552.60,328.30 555.42,322.05 557.60,321.20C559.78,321.20 562.02,323.20 563.70,323.20C565.38,318.33 566.35,308.95 567.70,292.00C569.05,275.05 570.55,240.13 571.80,221.50C573.05,202.87 574.03,183.57 575.20,180.20C576.37,180.20 577.53,184.35 578.80,201.30C580.07,218.25 581.45,257.72 582.80,281.90C584.15,306.08 585.55,333.30 586.90,346.40C588.25,359.50 589.23,357.48 590.90,360.50C592.57,363.52 595.22,361.82 596.90,364.50C598.58,367.18 599.65,375.92 601.00,376.60C602.35,376.60 603.80,369.90 605.00,368.60C606.20,368.60 606.72,368.80 608.20,368.80C609.68,368.70 612.55,368.80 613.90,368.00C615.25,366.77 615.48,367.93 616.30,361.40C617.12,354.87 617.98,343.77 618.80,328.80C619.62,313.83 620.38,289.32 621.20,271.60C622.02,253.88 622.88,235.85 623.70,222.50C624.52,209.15 625.37,197.88 626.10,191.50C626.83,185.12 627.42,184.20 628.10,184.20C628.78,184.47 629.43,186.72 630.20,193.10C630.97,199.48 631.75,210.78 632.70,222.50C633.65,234.22 634.82,251.13 635.90,263.40C636.98,275.67 637.97,287.38 639.20,296.10C640.43,304.82 642.07,311.22 643.30,315.70C644.53,320.18 645.37,323.00 646.60,323.00C647.83,323.00 649.20,317.18 650.70,315.70C652.20,314.22 654.38,315.70 655.60,314.10C656.82,312.18 657.05,314.10 658.00,304.20C658.95,293.03 660.22,263.43 661.30,247.10C662.38,230.77 663.60,214.65 664.50,206.20C665.40,197.75 666.02,196.40 666.70,196.40C667.38,196.40 667.73,197.75 668.60,206.20C669.47,214.65 670.95,232.12 671.90,247.10C672.85,262.08 673.48,278.40 674.30,296.10C675.12,313.80 675.83,339.15 676.80,353.30C677.77,367.45 678.73,375.70 680.10,381.00C681.47,385.10 683.50,383.47 685.00,385.10C686.50,386.73 687.88,389.30 689.10,390.80C690.32,392.30 691.08,394.10 692.30,394.10C693.52,393.83 694.90,390.42 696.40,389.20C697.90,387.98 699.53,386.93 701.30,386.80C703.07,386.80 705.63,388.40 707.00,388.40C708.37,386.90 708.55,387.73 709.50,377.80C710.45,367.87 711.75,345.15 712.70,328.80C713.65,312.45 714.38,292.78 715.20,279.70C716.02,266.62 716.87,256.28 717.60,250.30C718.33,244.32 718.92,243.80 719.60,243.80C720.28,244.62 721.03,245.83 721.70,255.20C722.37,264.57 722.95,284.52 723.60,300.00C724.25,315.48 724.87,336.07 725.60,348.10C726.33,360.13 727.20,364.98 728.00,372.20C728.80,379.42 729.33,387.25 730.40,391.40C731.47,395.55 732.78,395.75 734.40,397.10C736.02,398.45 738.22,398.57 740.10,399.50C741.98,400.43 744.10,402.70 745.70,402.70C747.30,402.70 748.37,401.17 749.70,399.50C751.03,397.83 752.23,393.37 753.70,392.70C755.17,392.70 756.90,394.90 758.50,395.50C760.10,396.10 761.70,395.63 763.30,396.30C764.90,396.97 766.55,398.03 768.10,399.50C769.65,400.97 771.25,405.10 772.60,405.10C773.95,404.83 774.80,399.90 776.20,397.90C777.60,395.90 779.40,393.23 781.00,393.10C782.60,393.10 784.33,396.17 785.80,397.10C787.27,398.03 788.47,397.77 789.80,398.70C791.13,399.63 792.33,402.70 793.80,402.70C795.27,402.03 797.13,396.43 798.60,394.70C800.07,392.97 801.00,392.30 802.60,392.30C804.20,392.30 806.60,393.63 808.20,394.70C809.80,395.77 810.85,396.97 812.20,398.70C813.55,400.43 814.82,405.10 816.30,405.10C817.78,404.83 819.63,398.97 821.10,397.10C822.57,395.23 823.50,393.90 825.10,393.90C826.70,393.90 828.97,396.03 830.70,397.10C832.43,398.17 834.17,399.50 835.50,400.30C836.83,401.10 837.37,401.90 838.70,401.90C840.03,400.57 842.17,394.25 843.50,392.30C844.83,390.35 845.48,390.20 846.70,390.20C847.92,390.33 849.18,391.88 850.80,393.10C852.42,394.32 854.40,395.50 856.40,397.50C858.40,399.50 861.07,404.90 862.80,405.10C864.53,405.10 865.47,400.17 866.80,398.70C868.13,397.23 868.93,396.30 870.80,396.30C872.67,396.78 875.87,400.80 878.00,401.60C880.13,401.60 881.58,401.10 883.60,401.10C885.62,401.33 887.83,402.08 890.10,403.00C892.37,403.92 894.55,406.60 897.20,406.60C899.85,406.53 903.85,403.45 906.00,402.60C908.15,401.75 908.75,401.50 910.10,401.50C911.45,401.77 912.63,404.20 914.10,404.20C915.57,404.20 917.30,402.30 918.90,401.50C920.50,400.70 922.10,399.40 923.70,399.40C925.30,399.58 927.03,401.27 928.50,402.60C929.97,403.93 930.90,406.20 932.50,407.40C934.10,408.60 936.10,408.85 938.10,409.80C940.10,410.75 942.62,412.90 944.50,413.10C946.38,413.10 948.05,411.00 949.40,411.00C950.75,411.00 951.53,412.95 952.60,413.10C953.67,413.10 954.73,411.90 955.80,411.90C956.87,411.97 957.53,413.03 959.00,413.50C960.47,413.97 959.00,414.63 964.60,414.70C970.75,414.70 990.15,413.90 995.90,413.90C999.10,413.97 998.03,415.05 999.10,415.10C1000.17,415.10 1000.70,414.20 1002.30,414.20C1003.90,414.27 1002.30,415.28 1008.70,415.50C1016.72,415.50 1043.45,415.50 1050.40,415.50" fill="none" stroke="#6a8c90" stroke-width="1.6" stroke-linejoin="round"/>
<rect x="708.8" y="28.7" width="344.8" height="74.5" fill="#fff" stroke="#7d7d7d" stroke-width="1.5"/>
<line x1="723.50" y1="49.90" x2="753.10" y2="49.90" stroke="#ff1010" stroke-width="3.2"/>
<line x1="723.50" y1="82.00" x2="753.10" y2="82.00" stroke="#000" stroke-width="3.2"/>
<line x1="145.00" y1="955.60" x2="1067.40" y2="955.60" stroke="#d8d8d8" stroke-width="1.3"/>
<line x1="145.00" y1="932.98" x2="1067.40" y2="932.98" stroke="#d8d8d8" stroke-width="1.3"/>
<line x1="145.00" y1="910.35" x2="1067.40" y2="910.35" stroke="#d8d8d8" stroke-width="1.3"/>
<line x1="145.00" y1="887.72" x2="1067.40" y2="887.72" stroke="#d8d8d8" stroke-width="1.3"/>
<line x1="145.00" y1="865.10" x2="1067.40" y2="865.10" stroke="#d8d8d8" stroke-width="1.3"/>
<line x1="145.00" y1="842.47" x2="1067.40" y2="842.47" stroke="#d8d8d8" stroke-width="1.3"/>
<line x1="145.00" y1="819.85" x2="1067.40" y2="819.85" stroke="#d8d8d8" stroke-width="1.3"/>
<line x1="145.00" y1="797.22" x2="1067.40" y2="797.22" stroke="#d8d8d8" stroke-width="1.3"/>
<line x1="145.00" y1="774.60" x2="1067.40" y2="774.60" stroke="#d8d8d8" stroke-width="1.3"/>
<line x1="145.00" y1="751.98" x2="1067.40" y2="751.98" stroke="#d8d8d8" stroke-width="1.3"/>
<line x1="145.00" y1="729.35" x2="1067.40" y2="729.35" stroke="#d8d8d8" stroke-width="1.3"/>
<line x1="145.00" y1="706.73" x2="1067.40" y2="706.73" stroke="#d8d8d8" stroke-width="1.3"/>
<line x1="145.00" y1="684.10" x2="1067.40" y2="684.10" stroke="#d8d8d8" stroke-width="1.3"/>
<line x1="145.00" y1="661.48" x2="1067.40" y2="661.48" stroke="#d8d8d8" stroke-width="1.3"/>
<line x1="145.00" y1="638.85" x2="1067.40" y2="638.85" stroke="#d8d8d8" stroke-width="1.3"/>
<line x1="145.00" y1="616.23" x2="1067.40" y2="616.23" stroke="#d8d8d8" stroke-width="1.3"/>
<line x1="145.00" y1="593.60" x2="1067.40" y2="593.60" stroke="#d8d8d8" stroke-width="1.3"/>
<line x1="145.00" y1="570.98" x2="1067.40" y2="570.98" stroke="#d8d8d8" stroke-width="1.3"/>
<line x1="229.90" y1="555.50" x2="229.90" y2="975.30" stroke="#d8d8d8" stroke-width="1.3"/>
<line x1="305.14" y1="555.50" x2="305.14" y2="975.30" stroke="#d8d8d8" stroke-width="1.3"/>
<line x1="380.38" y1="555.50" x2="380.38" y2="975.30" stroke="#d8d8d8" stroke-width="1.3"/>
<line x1="455.62" y1="555.50" x2="455.62" y2="975.30" stroke="#d8d8d8" stroke-width="1.3"/>
<line x1="530.86" y1="555.50" x2="530.86" y2="975.30" stroke="#d8d8d8" stroke-width="1.3"/>
<line x1="606.10" y1="555.50" x2="606.10" y2="975.30" stroke="#d8d8d8" stroke-width="1.3"/>
<line x1="681.34" y1="555.50" x2="681.34" y2="975.30" stroke="#d8d8d8" stroke-width="1.3"/>
<line x1="756.58" y1="555.50" x2="756.58" y2="975.30" stroke="#d8d8d8" stroke-width="1.3"/>
<line x1="831.82" y1="555.50" x2="831.82" y2="975.30" stroke="#d8d8d8" stroke-width="1.3"/>
<line x1="907.06" y1="555.50" x2="907.06" y2="975.30" stroke="#d8d8d8" stroke-width="1.3"/>
<line x1="982.30" y1="555.50" x2="982.30" y2="975.30" stroke="#d8d8d8" stroke-width="1.3"/>
<line x1="145.00" y1="555.50" x2="1067.40" y2="555.50" stroke="#888" stroke-width="1.6"/>
<line x1="1067.40" y1="555.50" x2="1067.40" y2="975.30" stroke="#888" stroke-width="1.6"/>
<line x1="145.00" y1="555.50" x2="145.00" y2="975.30" stroke="#222" stroke-width="2.2"/>
<line x1="145.00" y1="975.30" x2="1057.54" y2="975.30" stroke="#222" stroke-width="2.2"/>
<line x1="154.66" y1="975.30" x2="154.66" y2="978.30" stroke="#333" stroke-width="1.2"/>
<line x1="169.71" y1="975.30" x2="169.71" y2="978.30" stroke="#333" stroke-width="1.2"/>
<line x1="184.76" y1="975.30" x2="184.76" y2="978.30" stroke="#333" stroke-width="1.2"/>
<line x1="199.80" y1="975.30" x2="199.80" y2="978.30" stroke="#333" stroke-width="1.2"/>
<line x1="214.85" y1="975.30" x2="214.85" y2="978.30" stroke="#333" stroke-width="1.2"/>
<line x1="229.90" y1="975.30" x2="229.90" y2="978.30" stroke="#333" stroke-width="1.2"/>
<line x1="244.95" y1="975.30" x2="244.95" y2="978.30" stroke="#333" stroke-width="1.2"/>
<line x1="260.00" y1="975.30" x2="260.00" y2="978.30" stroke="#333" stroke-width="1.2"/>
<line x1="275.04" y1="975.30" x2="275.04" y2="978.30" stroke="#333" stroke-width="1.2"/>
<line x1="290.09" y1="975.30" x2="290.09" y2="978.30" stroke="#333" stroke-width="1.2"/>
<line x1="305.14" y1="975.30" x2="305.14" y2="978.30" stroke="#333" stroke-width="1.2"/>
<line x1="320.19" y1="975.30" x2="320.19" y2="978.30" stroke="#333" stroke-width="1.2"/>
<line x1="335.24" y1="975.30" x2="335.24" y2="978.30" stroke="#333" stroke-width="1.2"/>
<line x1="350.28" y1="975.30" x2="350.28" y2="978.30" stroke="#333" stroke-width="1.2"/>
<line x1="365.33" y1="975.30" x2="365.33" y2="978.30" stroke="#333" stroke-width="1.2"/>
<line x1="380.38" y1="975.30" x2="380.38" y2="978.30" stroke="#333" stroke-width="1.2"/>
<line x1="395.43" y1="975.30" x2="395.43" y2="978.30" stroke="#333" stroke-width="1.2"/>
<line x1="410.48" y1="975.30" x2="410.48" y2="978.30" stroke="#333" stroke-width="1.2"/>
<line x1="425.52" y1="975.30" x2="425.52" y2="978.30" stroke="#333" stroke-width="1.2"/>
<line x1="440.57" y1="975.30" x2="440.57" y2="978.30" stroke="#333" stroke-width="1.2"/>
<line x1="455.62" y1="975.30" x2="455.62" y2="978.30" stroke="#333" stroke-width="1.2"/>
<line x1="470.67" y1="975.30" x2="470.67" y2="978.30" stroke="#333" stroke-width="1.2"/>
<line x1="485.72" y1="975.30" x2="485.72" y2="978.30" stroke="#333" stroke-width="1.2"/>
<line x1="500.76" y1="975.30" x2="500.76" y2="978.30" stroke="#333" stroke-width="1.2"/>
<line x1="515.81" y1="975.30" x2="515.81" y2="978.30" stroke="#333" stroke-width="1.2"/>
<line x1="530.86" y1="975.30" x2="530.86" y2="978.30" stroke="#333" stroke-width="1.2"/>
<line x1="545.91" y1="975.30" x2="545.91" y2="978.30" stroke="#333" stroke-width="1.2"/>
<line x1="560.96" y1="975.30" x2="560.96" y2="978.30" stroke="#333" stroke-width="1.2"/>
<line x1="576.00" y1="975.30" x2="576.00" y2="978.30" stroke="#333" stroke-width="1.2"/>
<line x1="591.05" y1="975.30" x2="591.05" y2="978.30" stroke="#333" stroke-width="1.2"/>
<line x1="606.10" y1="975.30" x2="606.10" y2="978.30" stroke="#333" stroke-width="1.2"/>
<line x1="621.15" y1="975.30" x2="621.15" y2="978.30" stroke="#333" stroke-width="1.2"/>
<line x1="636.20" y1="975.30" x2="636.20" y2="978.30" stroke="#333" stroke-width="1.2"/>
<line x1="651.24" y1="975.30" x2="651.24" y2="978.30" stroke="#333" stroke-width="1.2"/>
<line x1="666.29" y1="975.30" x2="666.29" y2="978.30" stroke="#333" stroke-width="1.2"/>
<line x1="681.34" y1="975.30" x2="681.34" y2="978.30" stroke="#333" stroke-width="1.2"/>
<line x1="696.39" y1="975.30" x2="696.39" y2="978.30" stroke="#333" stroke-width="1.2"/>
<line x1="711.44" y1="975.30" x2="711.44" y2="978.30" stroke="#333" stroke-width="1.2"/>
<line x1="726.48" y1="975.30" x2="726.48" y2="978.30" stroke="#333" stroke-width="1.2"/>
<line x1="741.53" y1="975.30" x2="741.53" y2="978.30" stroke="#333" stroke-width="1.2"/>
<line x1="756.58" y1="975.30" x2="756.58" y2="978.30" stroke="#333" stroke-width="1.2"/>
<line x1="771.63" y1="975.30" x2="771.63" y2="978.30" stroke="#333" stroke-width="1.2"/>
<line x1="786.68" y1="975.30" x2="786.68" y2="978.30" stroke="#333" stroke-width="1.2"/>
<line x1="801.72" y1="975.30" x2="801.72" y2="978.30" stroke="#333" stroke-width="1.2"/>
<line x1="816.77" y1="975.30" x2="816.77" y2="978.30" stroke="#333" stroke-width="1.2"/>
<line x1="831.82" y1="975.30" x2="831.82" y2="978.30" stroke="#333" stroke-width="1.2"/>
<line x1="846.87" y1="975.30" x2="846.87" y2="978.30" stroke="#333" stroke-width="1.2"/>
<line x1="861.92" y1="975.30" x2="861.92" y2="978.30" stroke="#333" stroke-width="1.2"/>
<line x1="876.96" y1="975.30" x2="876.96" y2="978.30" stroke="#333" stroke-width="1.2"/>
<line x1="892.01" y1="975.30" x2="892.01" y2="978.30" stroke="#333" stroke-width="1.2"/>
<line x1="907.06" y1="975.30" x2="907.06" y2="978.30" stroke="#333" stroke-width="1.2"/>
<line x1="922.11" y1="975.30" x2="922.11" y2="978.30" stroke="#333" stroke-width="1.2"/>
<line x1="937.16" y1="975.30" x2="937.16" y2="978.30" stroke="#333" stroke-width="1.2"/>
<line x1="952.20" y1="975.30" x2="952.20" y2="978.30" stroke="#333" stroke-width="1.2"/>
<line x1="967.25" y1="975.30" x2="967.25" y2="978.30" stroke="#333" stroke-width="1.2"/>
<line x1="982.30" y1="975.30" x2="982.30" y2="978.30" stroke="#333" stroke-width="1.2"/>
<line x1="997.35" y1="975.30" x2="997.35" y2="978.30" stroke="#333" stroke-width="1.2"/>
<line x1="1012.40" y1="975.30" x2="1012.40" y2="978.30" stroke="#333" stroke-width="1.2"/>
<line x1="1027.44" y1="975.30" x2="1027.44" y2="978.30" stroke="#333" stroke-width="1.2"/>
<line x1="1042.49" y1="975.30" x2="1042.49" y2="978.30" stroke="#333" stroke-width="1.2"/>
<line x1="1057.54" y1="975.30" x2="1057.54" y2="978.30" stroke="#333" stroke-width="1.2"/>
<line x1="142.50" y1="973.70" x2="145.00" y2="973.70" stroke="#555" stroke-width="1.0"/>
<line x1="142.50" y1="969.18" x2="145.00" y2="969.18" stroke="#555" stroke-width="1.0"/>
<line x1="142.50" y1="964.65" x2="145.00" y2="964.65" stroke="#555" stroke-width="1.0"/>
<line x1="142.50" y1="960.13" x2="145.00" y2="960.13" stroke="#555" stroke-width="1.0"/>
<line x1="141.00" y1="955.60" x2="145.00" y2="955.60" stroke="#555" stroke-width="1.0"/>
<line x1="142.50" y1="951.07" x2="145.00" y2="951.07" stroke="#555" stroke-width="1.0"/>
<line x1="142.50" y1="946.55" x2="145.00" y2="946.55" stroke="#555" stroke-width="1.0"/>
<line x1="142.50" y1="942.02" x2="145.00" y2="942.02" stroke="#555" stroke-width="1.0"/>
<line x1="142.50" y1="937.50" x2="145.00" y2="937.50" stroke="#555" stroke-width="1.0"/>
<line x1="141.00" y1="932.98" x2="145.00" y2="932.98" stroke="#555" stroke-width="1.0"/>
<line x1="142.50" y1="928.45" x2="145.00" y2="928.45" stroke="#555" stroke-width="1.0"/>
<line x1="142.50" y1="923.93" x2="145.00" y2="923.93" stroke="#555" stroke-width="1.0"/>
<line x1="142.50" y1="919.40" x2="145.00" y2="919.40" stroke="#555" stroke-width="1.0"/>
<line x1="142.50" y1="914.88" x2="145.00" y2="914.88" stroke="#555" stroke-width="1.0"/>
<line x1="141.00" y1="910.35" x2="145.00" y2="910.35" stroke="#555" stroke-width="1.0"/>
<line x1="142.50" y1="905.83" x2="145.00" y2="905.83" stroke="#555" stroke-width="1.0"/>
<line x1="142.50" y1="901.30" x2="145.00" y2="901.30" stroke="#555" stroke-width="1.0"/>
<line x1="142.50" y1="896.77" x2="145.00" y2="896.77" stroke="#555" stroke-width="1.0"/>
<line x1="142.50" y1="892.25" x2="145.00" y2="892.25" stroke="#555" stroke-width="1.0"/>
<line x1="141.00" y1="887.72" x2="145.00" y2="887.72" stroke="#555" stroke-width="1.0"/>
<line x1="142.50" y1="883.20" x2="145.00" y2="883.20" stroke="#555" stroke-width="1.0"/>
<line x1="142.50" y1="878.67" x2="145.00" y2="878.67" stroke="#555" stroke-width="1.0"/>
<line x1="142.50" y1="874.15" x2="145.00" y2="874.15" stroke="#555" stroke-width="1.0"/>
<line x1="142.50" y1="869.62" x2="145.00" y2="869.62" stroke="#555" stroke-width="1.0"/>
<line x1="141.00" y1="865.10" x2="145.00" y2="865.10" stroke="#555" stroke-width="1.0"/>
<line x1="142.50" y1="860.58" x2="145.00" y2="860.58" stroke="#555" stroke-width="1.0"/>
<line x1="142.50" y1="856.05" x2="145.00" y2="856.05" stroke="#555" stroke-width="1.0"/>
<line x1="142.50" y1="851.53" x2="145.00" y2="851.53" stroke="#555" stroke-width="1.0"/>
<line x1="142.50" y1="847.00" x2="145.00" y2="847.00" stroke="#555" stroke-width="1.0"/>
<line x1="141.00" y1="842.47" x2="145.00" y2="842.47" stroke="#555" stroke-width="1.0"/>
<line x1="142.50" y1="837.95" x2="145.00" y2="837.95" stroke="#555" stroke-width="1.0"/>
<line x1="142.50" y1="833.42" x2="145.00" y2="833.42" stroke="#555" stroke-width="1.0"/>
<line x1="142.50" y1="828.90" x2="145.00" y2="828.90" stroke="#555" stroke-width="1.0"/>
<line x1="142.50" y1="824.38" x2="145.00" y2="824.38" stroke="#555" stroke-width="1.0"/>
<line x1="141.00" y1="819.85" x2="145.00" y2="819.85" stroke="#555" stroke-width="1.0"/>
<line x1="142.50" y1="815.33" x2="145.00" y2="815.33" stroke="#555" stroke-width="1.0"/>
<line x1="142.50" y1="810.80" x2="145.00" y2="810.80" stroke="#555" stroke-width="1.0"/>
<line x1="142.50" y1="806.28" x2="145.00" y2="806.28" stroke="#555" stroke-width="1.0"/>
<line x1="142.50" y1="801.75" x2="145.00" y2="801.75" stroke="#555" stroke-width="1.0"/>
<line x1="141.00" y1="797.23" x2="145.00" y2="797.23" stroke="#555" stroke-width="1.0"/>
<line x1="142.50" y1="792.70" x2="145.00" y2="792.70" stroke="#555" stroke-width="1.0"/>
<line x1="142.50" y1="788.17" x2="145.00" y2="788.17" stroke="#555" stroke-width="1.0"/>
<line x1="142.50" y1="783.65" x2="145.00" y2="783.65" stroke="#555" stroke-width="1.0"/>
<line x1="142.50" y1="779.12" x2="145.00" y2="779.12" stroke="#555" stroke-width="1.0"/>
<line x1="141.00" y1="774.60" x2="145.00" y2="774.60" stroke="#555" stroke-width="1.0"/>
<line x1="142.50" y1="770.08" x2="145.00" y2="770.08" stroke="#555" stroke-width="1.0"/>
<line x1="142.50" y1="765.55" x2="145.00" y2="765.55" stroke="#555" stroke-width="1.0"/>
<line x1="142.50" y1="761.03" x2="145.00" y2="761.03" stroke="#555" stroke-width="1.0"/>
<line x1="142.50" y1="756.50" x2="145.00" y2="756.50" stroke="#555" stroke-width="1.0"/>
<line x1="141.00" y1="751.98" x2="145.00" y2="751.98" stroke="#555" stroke-width="1.0"/>
<line x1="142.50" y1="747.45" x2="145.00" y2="747.45" stroke="#555" stroke-width="1.0"/>
<line x1="142.50" y1="742.92" x2="145.00" y2="742.92" stroke="#555" stroke-width="1.0"/>
<line x1="142.50" y1="738.40" x2="145.00" y2="738.40" stroke="#555" stroke-width="1.0"/>
<line x1="142.50" y1="733.88" x2="145.00" y2="733.88" stroke="#555" stroke-width="1.0"/>
<line x1="141.00" y1="729.35" x2="145.00" y2="729.35" stroke="#555" stroke-width="1.0"/>
<line x1="142.50" y1="724.83" x2="145.00" y2="724.83" stroke="#555" stroke-width="1.0"/>
<line x1="142.50" y1="720.30" x2="145.00" y2="720.30" stroke="#555" stroke-width="1.0"/>
<line x1="142.50" y1="715.78" x2="145.00" y2="715.78" stroke="#555" stroke-width="1.0"/>
<line x1="142.50" y1="711.25" x2="145.00" y2="711.25" stroke="#555" stroke-width="1.0"/>
<line x1="141.00" y1="706.73" x2="145.00" y2="706.73" stroke="#555" stroke-width="1.0"/>
<line x1="142.50" y1="702.20" x2="145.00" y2="702.20" stroke="#555" stroke-width="1.0"/>
<line x1="142.50" y1="697.67" x2="145.00" y2="697.67" stroke="#555" stroke-width="1.0"/>
<line x1="142.50" y1="693.15" x2="145.00" y2="693.15" stroke="#555" stroke-width="1.0"/>
<line x1="142.50" y1="688.63" x2="145.00" y2="688.63" stroke="#555" stroke-width="1.0"/>
<line x1="141.00" y1="684.10" x2="145.00" y2="684.10" stroke="#555" stroke-width="1.0"/>
<line x1="142.50" y1="679.57" x2="145.00" y2="679.57" stroke="#555" stroke-width="1.0"/>
<line x1="142.50" y1="675.05" x2="145.00" y2="675.05" stroke="#555" stroke-width="1.0"/>
<line x1="142.50" y1="670.53" x2="145.00" y2="670.53" stroke="#555" stroke-width="1.0"/>
<line x1="142.50" y1="666.00" x2="145.00" y2="666.00" stroke="#555" stroke-width="1.0"/>
<line x1="141.00" y1="661.48" x2="145.00" y2="661.48" stroke="#555" stroke-width="1.0"/>
<line x1="142.50" y1="656.95" x2="145.00" y2="656.95" stroke="#555" stroke-width="1.0"/>
<line x1="142.50" y1="652.42" x2="145.00" y2="652.42" stroke="#555" stroke-width="1.0"/>
<line x1="142.50" y1="647.90" x2="145.00" y2="647.90" stroke="#555" stroke-width="1.0"/>
<line x1="142.50" y1="643.38" x2="145.00" y2="643.38" stroke="#555" stroke-width="1.0"/>
<line x1="141.00" y1="638.85" x2="145.00" y2="638.85" stroke="#555" stroke-width="1.0"/>
<line x1="142.50" y1="634.32" x2="145.00" y2="634.32" stroke="#555" stroke-width="1.0"/>
<line x1="142.50" y1="629.80" x2="145.00" y2="629.80" stroke="#555" stroke-width="1.0"/>
<line x1="142.50" y1="625.28" x2="145.00" y2="625.28" stroke="#555" stroke-width="1.0"/>
<line x1="142.50" y1="620.75" x2="145.00" y2="620.75" stroke="#555" stroke-width="1.0"/>
<line x1="141.00" y1="616.23" x2="145.00" y2="616.23" stroke="#555" stroke-width="1.0"/>
<line x1="142.50" y1="611.70" x2="145.00" y2="611.70" stroke="#555" stroke-width="1.0"/>
<line x1="142.50" y1="607.17" x2="145.00" y2="607.17" stroke="#555" stroke-width="1.0"/>
<line x1="142.50" y1="602.65" x2="145.00" y2="602.65" stroke="#555" stroke-width="1.0"/>
<line x1="142.50" y1="598.13" x2="145.00" y2="598.13" stroke="#555" stroke-width="1.0"/>
<line x1="141.00" y1="593.60" x2="145.00" y2="593.60" stroke="#555" stroke-width="1.0"/>
<line x1="142.50" y1="589.07" x2="145.00" y2="589.07" stroke="#555" stroke-width="1.0"/>
<line x1="142.50" y1="584.55" x2="145.00" y2="584.55" stroke="#555" stroke-width="1.0"/>
<line x1="142.50" y1="580.03" x2="145.00" y2="580.03" stroke="#555" stroke-width="1.0"/>
<line x1="142.50" y1="575.50" x2="145.00" y2="575.50" stroke="#555" stroke-width="1.0"/>
<line x1="141.00" y1="570.98" x2="145.00" y2="570.98" stroke="#555" stroke-width="1.0"/>
<line x1="142.50" y1="566.45" x2="145.00" y2="566.45" stroke="#555" stroke-width="1.0"/>
<line x1="142.50" y1="561.92" x2="145.00" y2="561.92" stroke="#555" stroke-width="1.0"/>
<path d="M155.60,970.30C156.72,970.12 160.63,969.90 162.30,969.20C163.97,968.50 164.12,966.77 165.60,966.10C167.08,965.43 169.53,965.73 171.20,965.20C172.87,964.67 174.30,963.28 175.60,962.90C176.90,962.90 177.32,962.90 179.00,962.90C180.68,962.38 183.48,960.32 185.70,959.80C187.92,959.80 190.08,959.80 192.30,959.80C194.52,960.07 196.95,960.65 199.00,961.40C201.05,962.15 202.55,963.67 204.60,964.30C206.65,964.93 209.27,965.20 211.30,965.20C213.33,965.12 214.77,963.95 216.80,963.80C218.83,963.80 221.27,963.92 223.50,964.30C225.73,964.68 227.97,966.10 230.20,966.10C232.43,966.07 234.67,964.48 236.90,964.10C239.13,963.80 241.75,964.00 243.60,963.80C245.45,963.60 246.15,962.90 248.00,962.90C249.85,963.35 252.47,965.53 254.70,966.50C256.93,967.47 259.35,968.70 261.40,968.70C263.45,968.33 265.33,965.33 267.00,964.30C268.67,963.27 269.37,962.50 271.40,962.50C273.43,962.57 276.78,964.10 279.20,964.70C281.62,965.30 283.67,965.80 285.90,966.10C288.13,966.40 290.55,966.50 292.60,966.50C294.65,966.27 296.53,965.55 298.20,964.70C299.87,963.85 300.57,962.40 302.60,961.40C304.63,960.40 307.98,959.27 310.40,958.70C312.82,958.13 314.87,958.00 317.10,958.00C319.33,958.18 321.57,959.23 323.80,959.80C326.03,960.37 328.45,961.40 330.50,961.40C332.55,961.10 334.25,959.87 336.10,958.00C337.95,956.13 339.38,953.35 341.60,950.20C343.82,947.05 347.73,943.73 349.40,939.10C351.07,934.47 350.97,928.90 351.60,922.40C352.23,915.90 352.47,917.47 353.20,900.10C353.93,882.73 355.07,844.38 356.00,818.20C356.93,792.02 357.87,768.07 358.80,743.00C359.73,717.93 360.67,687.23 361.60,667.80C362.53,648.37 363.62,635.48 364.40,626.40C365.18,617.32 365.67,613.62 366.30,613.30C366.93,613.30 367.42,616.98 368.20,624.50C368.98,632.02 370.07,638.65 371.00,658.40C371.93,678.15 372.85,717.93 373.80,743.00C374.75,768.07 375.75,792.20 376.70,808.80C377.65,825.40 378.42,833.20 379.50,842.60C380.58,852.00 381.80,860.50 383.20,865.20C384.60,869.90 386.33,870.18 387.90,870.80C389.47,870.80 390.87,869.22 392.60,868.90C394.33,868.90 396.73,868.90 398.30,868.90C399.87,868.28 400.92,868.90 402.00,865.20C403.08,861.45 403.85,855.80 404.80,846.40C405.75,837.00 406.60,826.03 407.70,808.80C408.80,791.57 410.15,763.37 411.40,743.00C412.65,722.63 414.00,699.30 415.20,686.60C416.40,673.90 417.50,666.80 418.60,666.80C419.70,666.80 420.80,673.90 421.80,686.60C422.80,699.30 423.52,722.63 424.60,743.00C425.68,763.37 427.05,786.88 428.30,808.80C429.55,830.72 430.68,861.67 432.10,874.50C433.52,885.80 435.08,882.97 436.80,885.80C438.52,888.63 440.52,890.93 442.40,891.50C444.28,891.50 446.37,889.68 448.10,889.20C449.83,888.72 451.23,889.20 452.80,888.60C454.37,887.73 456.25,888.60 457.50,884.00C458.75,878.53 459.20,869.90 460.30,855.80C461.40,841.70 462.85,824.47 464.10,799.40C465.35,774.33 466.55,736.73 467.80,705.40C469.05,674.07 470.50,633.97 471.60,611.40C472.70,588.83 473.72,577.52 474.40,570.00C475.08,566.30 475.07,566.30 475.70,566.30C476.33,567.57 477.32,566.95 478.20,577.60C479.08,588.25 479.92,605.77 481.00,630.20C482.08,654.63 483.45,696.00 484.70,724.20C485.95,752.40 487.40,779.03 488.50,799.40C489.60,819.77 490.63,836.78 491.30,846.40C491.97,856.02 491.57,853.60 492.50,857.10C493.43,860.60 495.22,865.12 496.90,867.40C498.58,869.68 500.70,870.70 502.60,870.80C504.50,870.80 506.58,868.77 508.30,868.00C510.02,867.23 511.57,868.00 512.90,866.20C514.23,864.38 515.35,863.20 516.30,857.10C517.25,851.00 517.65,845.62 518.60,829.60C519.55,813.58 520.85,785.78 522.00,761.00C523.15,736.22 524.35,707.60 525.50,680.90C526.65,654.20 527.95,620.63 528.90,600.80C529.85,580.97 530.55,568.77 531.20,561.90C531.85,559.60 532.23,559.60 532.80,559.60C533.37,560.73 533.72,559.60 534.60,568.70C535.48,581.28 536.95,610.68 538.10,635.10C539.25,659.52 540.37,688.50 541.50,715.20C542.63,741.90 543.75,775.47 544.90,795.30C546.05,815.13 547.25,826.77 548.40,834.20C549.55,839.90 550.47,839.22 551.80,839.90C553.13,839.90 554.88,838.30 556.40,838.30C557.92,838.48 559.18,840.17 560.90,841.00C562.62,841.83 565.17,843.30 566.70,843.30C568.23,841.40 568.97,837.60 570.10,829.60C571.23,821.60 572.35,807.50 573.50,795.30C574.65,783.10 576.05,764.60 577.00,756.40C577.95,748.20 578.25,746.10 579.20,746.10C580.15,746.87 581.55,746.10 582.70,761.00C583.85,776.82 585.08,817.83 586.10,841.00C587.12,864.17 588.03,884.73 588.80,900.00C589.57,915.27 590.12,925.47 590.70,932.60C591.28,939.73 591.68,939.15 592.30,942.80C592.92,946.45 593.60,952.18 594.40,954.50C595.20,956.70 596.12,955.98 597.10,956.70C598.08,957.42 599.05,958.13 600.30,958.80C601.55,959.47 603.35,960.52 604.60,960.70C605.85,960.70 606.82,959.98 607.80,959.90C608.78,959.90 609.60,960.20 610.50,960.20C611.40,959.85 612.22,958.65 613.20,957.80C614.18,956.95 615.60,956.18 616.40,955.10C617.20,954.02 617.38,953.35 618.00,951.30C618.62,949.25 619.48,946.00 620.10,942.80C620.72,939.60 621.12,939.23 621.70,932.10C622.28,924.97 623.23,913.27 623.60,900.00C623.90,886.73 623.60,875.67 623.90,852.50C624.52,829.33 626.17,787.70 627.30,761.00C628.43,734.30 629.55,710.23 630.70,692.30C631.85,674.37 633.35,660.45 634.20,653.40C635.05,650.00 635.05,650.00 635.80,650.00C636.55,650.77 637.63,650.95 638.70,658.00C639.77,665.05 641.08,676.67 642.20,692.30C643.32,707.93 644.27,737.98 645.40,751.80C646.53,765.62 647.80,769.52 649.00,775.20C650.20,780.88 651.47,783.57 652.60,785.90C653.73,788.23 654.75,789.20 655.80,789.20C656.85,788.60 657.93,786.13 658.90,782.30C659.87,778.47 660.70,777.28 661.60,766.20C662.50,755.12 663.40,733.18 664.30,715.80C665.20,698.42 666.10,677.47 667.00,661.90C667.90,646.33 668.87,631.15 669.70,622.40C670.53,613.65 671.25,610.30 672.00,609.40C672.75,609.40 673.38,609.75 674.20,617.00C675.02,624.25 676.02,636.43 676.90,652.90C677.78,669.37 678.62,693.33 679.50,715.80C680.38,738.27 681.30,768.22 682.20,787.70C683.10,807.18 683.85,820.12 684.90,832.70C685.95,845.28 687.30,856.32 688.50,863.20C689.70,870.08 690.90,871.45 692.10,874.00C693.30,876.55 694.20,878.05 695.70,878.50C697.20,878.50 698.85,878.35 701.10,876.70C703.35,875.05 707.40,872.93 709.20,868.60C711.00,864.27 711.00,859.68 711.90,850.70C712.80,841.72 713.70,831.18 714.60,814.70C715.50,798.22 716.40,769.78 717.30,751.80C718.20,733.82 719.10,719.68 720.00,706.80C720.90,693.92 721.80,682.13 722.70,674.50C723.60,666.87 724.50,661.00 725.40,661.00C726.30,661.00 727.20,665.37 728.10,674.50C729.00,683.63 729.90,696.93 730.80,715.80C731.70,734.67 732.60,766.72 733.50,787.70C734.40,808.68 735.15,825.82 736.20,841.70C737.25,857.58 738.60,874.32 739.80,883.00C741.00,891.68 742.05,891.25 743.40,893.80C744.75,896.35 746.50,897.25 747.90,898.30C749.30,899.35 750.32,900.10 751.80,900.10C753.28,899.65 754.77,897.10 756.80,895.60C758.83,894.10 761.30,891.40 764.00,891.10C766.70,891.10 770.75,892.75 773.00,893.80C775.25,894.85 775.70,897.40 777.50,897.40C779.30,897.33 782.00,894.15 783.80,893.40C785.60,892.90 786.50,892.90 788.30,892.90C790.10,893.42 792.85,895.45 794.60,896.50C796.35,897.55 797.03,899.20 798.80,899.20C800.57,898.73 803.05,895.15 805.20,893.70C807.35,892.25 809.68,890.57 811.70,890.50C813.72,890.50 815.57,892.03 817.30,893.30C819.03,894.57 820.37,898.10 822.10,898.10C823.83,898.10 825.70,894.58 827.70,893.30C829.70,892.02 832.10,890.40 834.10,890.40C836.10,890.47 837.68,891.88 839.70,893.70C841.72,895.52 844.18,900.83 846.20,901.30C848.22,901.30 849.80,898.50 851.80,896.50C853.80,894.50 856.20,889.70 858.20,889.30C860.20,889.30 862.07,892.45 863.80,894.10C865.53,895.75 866.47,899.07 868.60,899.20C870.73,899.20 874.05,896.22 876.60,894.90C879.15,893.58 881.48,891.70 883.90,891.30C886.32,891.30 888.97,891.63 891.10,892.50C893.23,893.37 894.57,895.08 896.70,896.50C898.83,897.92 901.63,901.00 903.90,901.00C906.17,901.00 908.57,897.92 910.30,896.50C912.03,895.08 912.68,892.72 914.30,892.50C915.92,892.50 917.85,894.13 920.00,895.20C922.15,896.27 925.33,897.48 927.20,898.90C929.07,900.32 930.00,901.57 931.20,903.70C932.40,905.83 933.47,908.77 934.40,911.70C935.33,914.63 936.00,918.75 936.80,921.30C937.60,923.85 938.00,926.32 939.20,927.00C940.40,927.00 942.53,925.40 944.00,925.40C945.47,926.60 946.80,931.27 948.00,934.20C949.20,937.13 950.13,941.45 951.20,943.00C952.27,943.50 953.05,943.00 954.40,943.50C955.75,944.97 957.55,950.10 959.30,951.80C961.05,953.50 963.12,953.03 964.90,953.70C966.68,954.37 968.62,954.75 970.00,955.80C971.38,956.85 971.42,959.00 973.20,960.00C974.98,961.00 977.77,961.50 980.70,961.80C983.63,961.80 987.65,961.80 990.80,961.80C993.95,961.50 997.08,960.00 999.60,960.00C1002.12,960.12 1004.02,962.50 1005.90,962.50C1007.78,962.50 1008.40,960.20 1010.90,960.00C1013.40,960.00 1017.55,960.88 1020.90,961.30C1024.25,961.72 1025.13,962.30 1031.00,962.50C1036.87,962.50 1051.92,962.50 1056.10,962.50" fill="none" stroke="#ff6464" stroke-width="1.6" stroke-linejoin="round"/>
<rect x="711.5" y="562.9" width="347.5" height="44.1" fill="#fff" stroke="#7d7d7d" stroke-width="1.5"/>
<line x1="726.10" y1="584.50" x2="755.60" y2="584.50" stroke="#ff1010" stroke-width="3.2"/>
<rect x="116.0" y="1097.5" width="907.1" height="7.5" fill="#ff6600"/>
<line x1="141.20" y1="1097.80" x2="141.20" y2="1104.80" stroke="#1f6fd6" stroke-width="1.2"/>
<line x1="165.70" y1="1097.80" x2="165.70" y2="1104.80" stroke="#1f6fd6" stroke-width="1.2"/>
<line x1="226.30" y1="1097.80" x2="226.30" y2="1104.80" stroke="#1f6fd6" stroke-width="1.2"/>
<line x1="242.60" y1="1097.80" x2="242.60" y2="1104.80" stroke="#1f6fd6" stroke-width="1.2"/>
<line x1="263.10" y1="1097.80" x2="263.10" y2="1104.80" stroke="#1f6fd6" stroke-width="1.2"/>
<line x1="270.00" y1="1097.80" x2="270.00" y2="1104.80" stroke="#1f6fd6" stroke-width="1.2"/>
<line x1="273.80" y1="1097.80" x2="273.80" y2="1104.80" stroke="#1f6fd6" stroke-width="1.2"/>
<line x1="285.40" y1="1097.80" x2="285.40" y2="1104.80" stroke="#1f6fd6" stroke-width="1.2"/>
<line x1="297.20" y1="1097.80" x2="297.20" y2="1104.80" stroke="#1f6fd6" stroke-width="1.2"/>
<line x1="317.70" y1="1097.80" x2="317.70" y2="1104.80" stroke="#1f6fd6" stroke-width="1.2"/>
<line x1="354.00" y1="1097.80" x2="354.00" y2="1104.80" stroke="#1f6fd6" stroke-width="1.2"/>
<line x1="356.90" y1="1097.80" x2="356.90" y2="1104.80" stroke="#1f6fd6" stroke-width="1.2"/>
<line x1="376.30" y1="1097.80" x2="376.30" y2="1104.80" stroke="#1f6fd6" stroke-width="1.2"/>
<line x1="379.40" y1="1097.80" x2="379.40" y2="1104.80" stroke="#1f6fd6" stroke-width="1.2"/>
<line x1="396.80" y1="1097.80" x2="396.80" y2="1104.80" stroke="#1f6fd6" stroke-width="1.2"/>
<line x1="402.00" y1="1097.80" x2="402.00" y2="1104.80" stroke="#1f6fd6" stroke-width="1.2"/>
<line x1="403.60" y1="1097.80" x2="403.60" y2="1104.80" stroke="#1f6fd6" stroke-width="1.2"/>
<line x1="425.80" y1="1097.80" x2="425.80" y2="1104.80" stroke="#1f6fd6" stroke-width="1.2"/>
<line x1="428.40" y1="1097.80" x2="428.40" y2="1104.80" stroke="#1f6fd6" stroke-width="1.2"/>
<line x1="464.70" y1="1097.80" x2="464.70" y2="1104.80" stroke="#1f6fd6" stroke-width="1.2"/>
<line x1="484.40" y1="1097.80" x2="484.40" y2="1104.80" stroke="#1f6fd6" stroke-width="1.2"/>
<line x1="488.10" y1="1097.80" x2="488.10" y2="1104.80" stroke="#1f6fd6" stroke-width="1.2"/>
<line x1="533.80" y1="1097.80" x2="533.80" y2="1104.80" stroke="#1f6fd6" stroke-width="1.2"/>
<line x1="536.70" y1="1097.80" x2="536.70" y2="1104.80" stroke="#1f6fd6" stroke-width="1.2"/>
<line x1="556.10" y1="1097.80" x2="556.10" y2="1104.80" stroke="#1f6fd6" stroke-width="1.2"/>
<line x1="559.90" y1="1097.80" x2="559.90" y2="1104.80" stroke="#1f6fd6" stroke-width="1.2"/>
<line x1="595.30" y1="1097.80" x2="595.30" y2="1104.80" stroke="#1f6fd6" stroke-width="1.2"/>
<line x1="619.00" y1="1097.80" x2="619.00" y2="1104.80" stroke="#1f6fd6" stroke-width="1.2"/>
<line x1="623.40" y1="1097.80" x2="623.40" y2="1104.80" stroke="#1f6fd6" stroke-width="1.2"/>
<line x1="635.70" y1="1097.80" x2="635.70" y2="1104.80" stroke="#1f6fd6" stroke-width="1.2"/>
<line x1="660.20" y1="1097.80" x2="660.20" y2="1104.80" stroke="#1f6fd6" stroke-width="1.2"/>
<line x1="690.70" y1="1097.80" x2="690.70" y2="1104.80" stroke="#1f6fd6" stroke-width="1.2"/>
<line x1="698.50" y1="1097.80" x2="698.50" y2="1104.80" stroke="#1f6fd6" stroke-width="1.2"/>
<line x1="717.00" y1="1097.80" x2="717.00" y2="1104.80" stroke="#1f6fd6" stroke-width="1.2"/>
<line x1="731.90" y1="1097.80" x2="731.90" y2="1104.80" stroke="#1f6fd6" stroke-width="1.2"/>
<line x1="747.10" y1="1097.80" x2="747.10" y2="1104.80" stroke="#1f6fd6" stroke-width="1.2"/>
<line x1="752.20" y1="1097.80" x2="752.20" y2="1104.80" stroke="#1f6fd6" stroke-width="1.2"/>
<line x1="901.70" y1="1097.80" x2="901.70" y2="1104.80" stroke="#1f6fd6" stroke-width="1.2"/>
<line x1="902.70" y1="1097.80" x2="902.70" y2="1104.80" stroke="#1f6fd6" stroke-width="1.2"/>
<line x1="903.70" y1="1097.80" x2="903.70" y2="1104.80" stroke="#1f6fd6" stroke-width="1.2"/>
<line x1="906.50" y1="1097.80" x2="906.50" y2="1104.80" stroke="#1f6fd6" stroke-width="1.2"/>
<line x1="913.70" y1="1097.80" x2="913.70" y2="1104.80" stroke="#1f6fd6" stroke-width="1.2"/>
<line x1="922.30" y1="1097.80" x2="922.30" y2="1104.80" stroke="#1f6fd6" stroke-width="1.2"/>
<line x1="926.20" y1="1097.80" x2="926.20" y2="1104.80" stroke="#1f6fd6" stroke-width="1.2"/>
<line x1="952.90" y1="1097.80" x2="952.90" y2="1104.80" stroke="#1f6fd6" stroke-width="1.2"/>
<line x1="616.30" y1="1097.80" x2="616.30" y2="1104.80" stroke="#22bb44" stroke-width="1.2"/>
<line x1="116.00" y1="1097.00" x2="1088.30" y2="1097.00" stroke="#111" stroke-width="1.8"/>
<line x1="116.00" y1="1105.40" x2="1088.30" y2="1105.40" stroke="#111" stroke-width="1.4"/>
<line x1="111.00" y1="1135.70" x2="1088.30" y2="1135.70" stroke="#222" stroke-width="1.2"/>
<line x1="111.00" y1="1167.50" x2="1088.30" y2="1167.50" stroke="#222" stroke-width="1.2"/>
<line x1="111.00" y1="1199.50" x2="1088.30" y2="1199.50" stroke="#222" stroke-width="1.2"/>
<line x1="111.00" y1="1231.60" x2="1088.30" y2="1231.60" stroke="#222" stroke-width="1.2"/>
<line x1="111.00" y1="1263.20" x2="1088.30" y2="1263.20" stroke="#222" stroke-width="1.2"/>
<line x1="111.00" y1="1295.40" x2="1088.30" y2="1295.40" stroke="#222" stroke-width="1.2"/>
<line x1="111.00" y1="1327.80" x2="1088.30" y2="1327.80" stroke="#222" stroke-width="1.2"/>
<line x1="111.00" y1="1358.90" x2="1088.30" y2="1358.90" stroke="#222" stroke-width="1.2"/>
<line x1="111.00" y1="1391.30" x2="1088.30" y2="1391.30" stroke="#222" stroke-width="1.2"/>
<line x1="111.00" y1="1423.50" x2="1088.30" y2="1423.50" stroke="#222" stroke-width="1.2"/>
<line x1="111.00" y1="1455.40" x2="1088.30" y2="1455.40" stroke="#222" stroke-width="1.2"/>
<line x1="111.00" y1="1487.20" x2="1088.30" y2="1487.20" stroke="#222" stroke-width="1.2"/>
<line x1="111.00" y1="1519.60" x2="1088.30" y2="1519.60" stroke="#222" stroke-width="1.2"/>
<line x1="111.00" y1="1551.70" x2="1088.30" y2="1551.70" stroke="#222" stroke-width="1.2"/>
<line x1="111.00" y1="1582.90" x2="1088.30" y2="1582.90" stroke="#222" stroke-width="1.2"/>
<line x1="111.00" y1="1615.20" x2="1088.30" y2="1615.20" stroke="#222" stroke-width="1.2"/>
<line x1="111.00" y1="1647.50" x2="1088.30" y2="1647.50" stroke="#222" stroke-width="1.2"/>
<line x1="111.00" y1="1678.90" x2="1088.30" y2="1678.90" stroke="#222" stroke-width="1.2"/>
<line x1="111.00" y1="1711.00" x2="1088.30" y2="1711.00" stroke="#222" stroke-width="1.2"/>
<line x1="195.70" y1="1105.40" x2="195.70" y2="1736.50" stroke="#222" stroke-width="1.2"/>
<line x1="276.50" y1="1105.40" x2="276.50" y2="1736.50" stroke="#222" stroke-width="1.2"/>
<line x1="358.00" y1="1105.40" x2="358.00" y2="1736.50" stroke="#222" stroke-width="1.2"/>
<line x1="439.40" y1="1105.40" x2="439.40" y2="1736.50" stroke="#222" stroke-width="1.2"/>
<line x1="521.20" y1="1105.40" x2="521.20" y2="1736.50" stroke="#222" stroke-width="1.2"/>
<line x1="601.40" y1="1105.40" x2="601.40" y2="1736.50" stroke="#222" stroke-width="1.2"/>
<line x1="682.70" y1="1105.40" x2="682.70" y2="1736.50" stroke="#222" stroke-width="1.2"/>
<line x1="764.30" y1="1105.40" x2="764.30" y2="1736.50" stroke="#222" stroke-width="1.2"/>
<line x1="845.30" y1="1105.40" x2="845.30" y2="1736.50" stroke="#222" stroke-width="1.2"/>
<line x1="927.30" y1="1105.40" x2="927.30" y2="1736.50" stroke="#222" stroke-width="1.2"/>
<line x1="1007.80" y1="1105.40" x2="1007.80" y2="1736.50" stroke="#222" stroke-width="1.2"/>
<line x1="116.00" y1="1096.00" x2="116.00" y2="1736.50" stroke="#111" stroke-width="2.4"/>
<line x1="1088.30" y1="1096.00" x2="1088.30" y2="1736.50" stroke="#111" stroke-width="2.6"/>
<line x1="116.00" y1="1731.50" x2="1088.30" y2="1731.50" stroke="#111" stroke-width="2.4"/>
<line x1="107.50" y1="1133.70" x2="107.50" y2="1137.70" stroke="#8ec8f0" stroke-width="1.0"/>
<line x1="107.50" y1="1165.50" x2="107.50" y2="1169.50" stroke="#8ec8f0" stroke-width="1.0"/>
<line x1="107.50" y1="1197.50" x2="107.50" y2="1201.50" stroke="#8ec8f0" stroke-width="1.0"/>
<line x1="107.50" y1="1229.60" x2="107.50" y2="1233.60" stroke="#8ec8f0" stroke-width="1.0"/>
<line x1="107.50" y1="1261.20" x2="107.50" y2="1265.20" stroke="#8ec8f0" stroke-width="1.0"/>
<line x1="107.50" y1="1293.40" x2="107.50" y2="1297.40" stroke="#8ec8f0" stroke-width="1.0"/>
<line x1="107.50" y1="1325.80" x2="107.50" y2="1329.80" stroke="#8ec8f0" stroke-width="1.0"/>
<line x1="107.50" y1="1356.90" x2="107.50" y2="1360.90" stroke="#8ec8f0" stroke-width="1.0"/>
<line x1="107.50" y1="1389.30" x2="107.50" y2="1393.30" stroke="#8ec8f0" stroke-width="1.0"/>
<line x1="107.50" y1="1421.50" x2="107.50" y2="1425.50" stroke="#8ec8f0" stroke-width="1.0"/>
<line x1="107.50" y1="1453.40" x2="107.50" y2="1457.40" stroke="#8ec8f0" stroke-width="1.0"/>
<line x1="107.50" y1="1485.20" x2="107.50" y2="1489.20" stroke="#8ec8f0" stroke-width="1.0"/>
<line x1="107.50" y1="1517.60" x2="107.50" y2="1521.60" stroke="#8ec8f0" stroke-width="1.0"/>
<line x1="107.50" y1="1549.70" x2="107.50" y2="1553.70" stroke="#8ec8f0" stroke-width="1.0"/>
<line x1="107.50" y1="1580.90" x2="107.50" y2="1584.90" stroke="#8ec8f0" stroke-width="1.0"/>
<line x1="107.50" y1="1613.20" x2="107.50" y2="1617.20" stroke="#8ec8f0" stroke-width="1.0"/>
<line x1="107.50" y1="1645.50" x2="107.50" y2="1649.50" stroke="#8ec8f0" stroke-width="1.0"/>
<line x1="107.50" y1="1676.90" x2="107.50" y2="1680.90" stroke="#8ec8f0" stroke-width="1.0"/>
<line x1="107.50" y1="1709.00" x2="107.50" y2="1713.00" stroke="#8ec8f0" stroke-width="1.0"/>
<path d="M116.20,1533.00C117.16,1532.69 121.55,1531.54 123.40,1530.70C125.25,1529.86 128.62,1527.82 130.10,1526.70C131.58,1525.58 133.31,1523.18 134.50,1522.30C135.69,1521.42 137.96,1520.10 139.00,1520.10C140.04,1520.10 141.41,1522.25 142.30,1522.30C143.19,1522.30 144.37,1520.50 145.70,1520.50C147.03,1521.25 150.82,1526.47 152.30,1527.90C153.78,1529.33 155.45,1530.61 156.80,1531.20C158.15,1531.79 161.36,1532.30 162.40,1532.30C163.44,1531.70 163.56,1527.79 164.60,1526.70C165.64,1525.61 168.57,1524.10 170.20,1524.10C171.83,1524.10 175.03,1525.82 176.80,1526.70C178.57,1527.58 181.71,1529.81 183.50,1530.70C185.29,1531.59 186.63,1532.97 190.20,1533.40C193.77,1533.83 206.73,1533.90 210.30,1533.90C213.87,1533.61 215.23,1532.60 217.00,1531.20C218.77,1529.80 222.12,1524.44 223.60,1523.40C225.08,1523.40 226.75,1523.40 228.10,1523.40C229.45,1522.89 232.07,1520.35 233.70,1519.60C235.33,1518.85 238.97,1517.80 240.30,1517.80C241.63,1518.31 242.50,1523.09 243.70,1523.40C244.90,1523.40 247.51,1520.90 249.30,1520.10C251.09,1519.30 255.62,1518.29 257.10,1517.40C258.58,1516.51 259.52,1515.43 260.40,1513.40C261.28,1511.37 262.81,1503.99 263.70,1502.20C264.59,1500.41 266.06,1500.00 267.10,1500.00C268.14,1500.15 270.61,1502.14 271.50,1503.30C272.39,1504.46 273.11,1508.58 273.80,1508.70C274.49,1508.70 275.42,1505.53 276.70,1504.20C277.98,1502.87 281.61,1500.63 283.40,1498.70C285.19,1496.77 288.91,1493.87 290.10,1489.70C291.29,1485.53 291.85,1476.33 292.30,1467.40C292.75,1458.47 293.19,1431.34 293.50,1422.70C293.81,1414.06 294.31,1410.93 294.60,1402.60C294.89,1394.27 295.26,1365.85 295.70,1360.20C296.14,1360.20 297.30,1360.20 297.90,1360.20C298.50,1361.84 299.75,1372.50 300.20,1372.50C300.65,1371.30 300.86,1358.20 301.30,1351.20C301.74,1344.20 303.06,1331.31 303.50,1320.00C303.94,1308.69 304.31,1279.51 304.60,1266.40C304.89,1253.29 305.31,1231.23 305.70,1221.70C306.09,1212.17 306.95,1199.51 307.50,1194.90C308.05,1190.29 309.29,1187.10 309.80,1187.10C310.31,1187.69 310.89,1191.71 311.30,1199.30C311.71,1206.89 312.45,1232.08 312.90,1244.00C313.35,1255.92 314.26,1276.78 314.70,1288.70C315.14,1300.62 315.84,1318.51 316.20,1333.40C316.56,1348.29 317.01,1384.03 317.40,1400.40C317.79,1416.77 318.57,1445.79 319.10,1456.20C319.63,1466.61 320.65,1472.83 321.40,1478.50C322.15,1484.17 323.66,1494.97 324.70,1498.70C325.74,1502.43 327.85,1505.91 329.20,1506.50C330.55,1506.50 333.47,1503.85 334.80,1503.10C336.13,1502.35 337.72,1501.34 339.20,1500.90C340.68,1500.46 344.55,1500.90 345.90,1499.80C347.25,1498.31 348.41,1494.02 349.30,1489.70C350.19,1485.38 351.71,1476.33 352.60,1467.40C353.49,1458.47 355.40,1434.62 356.00,1422.70C356.60,1410.78 356.66,1392.89 357.10,1378.00C357.54,1363.11 358.85,1325.88 359.30,1311.00C359.75,1296.12 360.05,1281.29 360.50,1266.40C360.95,1251.51 362.26,1214.19 362.70,1199.30C363.14,1184.41 363.29,1163.47 363.80,1154.70C364.31,1145.93 365.85,1134.99 366.50,1133.50C367.15,1133.50 368.17,1136.21 368.70,1143.50C369.23,1150.79 370.02,1174.80 370.50,1188.20C370.98,1201.60 371.85,1229.11 372.30,1244.00C372.75,1258.89 373.49,1285.01 373.90,1299.90C374.31,1314.79 374.96,1339.33 375.40,1355.70C375.84,1372.07 376.51,1407.81 377.20,1422.70C377.89,1437.59 379.71,1457.87 380.60,1467.40C381.49,1476.93 382.86,1489.15 383.90,1494.20C384.94,1499.25 387.20,1504.41 388.40,1505.30C389.60,1505.30 391.57,1502.38 392.90,1500.90C394.23,1499.42 397.36,1498.67 398.40,1494.20C399.44,1489.73 400.10,1476.93 400.70,1467.40C401.30,1457.87 402.31,1434.62 402.90,1422.70C403.49,1410.78 404.50,1395.87 405.10,1378.00C405.70,1360.13 406.80,1311.03 407.40,1288.70C408.00,1266.37 409.01,1229.86 409.60,1210.50C410.19,1191.14 411.20,1156.01 411.80,1143.50C412.40,1130.99 413.50,1117.59 414.10,1116.70C414.70,1116.70 415.71,1125.79 416.30,1136.80C416.89,1147.81 417.90,1182.02 418.50,1199.30C419.10,1216.58 420.05,1248.52 420.80,1266.40C421.55,1284.28 423.51,1317.17 424.10,1333.40C424.69,1349.63 424.75,1380.66 425.20,1388.10C425.65,1389.20 426.90,1388.10 427.50,1389.20C428.10,1395.31 428.95,1421.99 429.70,1433.90C430.45,1445.81 432.21,1468.67 433.10,1478.50C433.99,1488.33 434.96,1502.52 436.40,1507.60C437.84,1512.68 442.57,1515.19 443.90,1516.60C445.23,1518.01 445.23,1518.13 446.40,1518.20C447.57,1518.20 451.42,1518.13 452.70,1517.10C453.98,1516.07 455.12,1512.66 456.00,1510.50C456.88,1508.34 458.74,1507.81 459.30,1500.90C459.86,1493.99 459.95,1468.58 460.20,1458.70C460.45,1448.82 460.92,1435.87 461.20,1426.80C461.48,1417.73 461.87,1396.22 462.30,1390.70C462.73,1385.40 463.75,1385.40 464.40,1385.40C465.05,1385.40 466.63,1390.70 467.20,1390.70C467.77,1386.30 468.37,1364.59 468.70,1352.40C469.03,1340.21 469.34,1312.05 469.70,1299.30C470.06,1286.55 470.97,1267.28 471.40,1256.80C471.83,1246.32 472.50,1228.06 472.90,1220.70C473.30,1213.34 473.92,1203.87 474.40,1201.60C474.88,1201.60 476.05,1201.60 476.50,1203.70C476.95,1207.67 477.43,1221.48 477.80,1231.40C478.17,1241.32 478.90,1267.62 479.30,1278.10C479.70,1288.58 480.37,1300.09 480.80,1310.00C481.23,1319.91 482.13,1338.24 482.50,1352.40C482.87,1366.56 483.17,1402.03 483.60,1416.20C484.03,1430.37 484.99,1449.63 485.70,1458.70C486.41,1467.77 488.15,1479.23 488.90,1484.20C489.65,1489.17 490.33,1492.28 491.30,1496.00C492.27,1499.72 494.91,1509.10 496.20,1512.10C497.49,1515.10 499.72,1517.33 501.00,1518.50C502.28,1519.67 503.45,1520.58 505.80,1520.90C508.15,1520.90 516.25,1520.90 518.60,1520.90C520.95,1520.05 522.23,1516.74 523.40,1514.50C524.57,1512.26 526.44,1506.99 527.40,1504.10C528.36,1501.21 529.65,1501.69 530.60,1492.80C531.55,1483.91 533.69,1449.03 534.50,1437.40C535.31,1425.77 536.21,1416.93 536.70,1405.60C537.19,1394.27 537.92,1367.99 538.20,1352.40C538.48,1336.81 538.44,1305.69 538.80,1288.70C539.16,1271.71 540.34,1238.60 540.90,1225.00C541.46,1211.40 542.49,1192.79 543.00,1186.70C543.51,1180.61 544.13,1179.30 544.70,1179.30C545.27,1179.87 546.67,1183.49 547.30,1191.00C547.93,1198.51 548.97,1220.59 549.40,1235.60C549.83,1250.61 549.93,1293.97 550.50,1303.60C551.07,1307.80 552.99,1304.12 553.70,1307.80C554.41,1311.48 555.24,1325.25 555.80,1331.20C556.36,1337.15 557.47,1341.07 557.90,1352.40C558.33,1363.73 558.57,1402.03 559.00,1416.20C559.43,1430.37 560.39,1448.79 561.10,1458.70C561.81,1468.61 563.34,1483.81 564.30,1490.50C565.26,1497.19 567.22,1505.38 568.30,1508.90C569.38,1512.42 570.68,1515.83 572.40,1516.90C574.12,1516.90 579.39,1516.90 581.20,1516.90C583.01,1516.26 584.93,1514.23 586.00,1512.10C587.07,1509.97 588.41,1506.61 589.20,1500.90C589.99,1495.19 591.39,1480.59 591.90,1469.30C592.41,1458.01 592.72,1427.53 593.00,1416.20C593.28,1404.87 593.29,1389.69 594.00,1384.30C594.71,1378.91 597.30,1377.21 598.30,1375.80C599.30,1374.39 600.97,1375.80 601.50,1373.70C602.03,1364.93 602.02,1325.59 602.30,1310.00C602.58,1294.41 603.29,1265.17 603.60,1256.80C603.91,1248.43 604.32,1250.61 604.60,1247.20C604.88,1243.79 605.25,1232.41 605.70,1231.20C606.15,1231.20 607.55,1233.83 608.00,1238.10C608.45,1242.37 608.70,1263.20 609.10,1263.20C609.50,1259.53 610.53,1212.73 611.00,1210.60C611.47,1210.60 612.17,1239.27 612.60,1247.20C613.03,1255.13 613.75,1262.47 614.20,1270.10C614.65,1277.73 615.45,1293.72 616.00,1304.40C616.55,1315.08 617.85,1338.00 618.30,1350.20C618.75,1362.40 618.95,1382.79 619.40,1395.90C619.85,1409.01 620.93,1439.05 621.70,1448.50C622.47,1457.95 624.44,1462.37 625.20,1466.80C625.96,1471.23 626.80,1481.70 627.40,1481.70C628.00,1481.09 629.09,1470.59 629.70,1462.20C630.31,1453.81 631.53,1431.29 632.00,1418.80C632.47,1406.31 632.73,1375.37 633.20,1368.50C633.67,1367.30 634.74,1367.30 635.50,1367.30C636.26,1367.90 638.21,1373.00 638.90,1373.00C639.59,1369.19 640.34,1349.37 640.70,1338.70C641.06,1328.03 641.39,1305.20 641.60,1293.00C641.81,1280.80 641.99,1259.40 642.30,1247.20C642.61,1235.00 643.50,1215.22 643.90,1201.50C644.30,1187.78 644.90,1155.58 645.30,1144.30C645.70,1133.02 646.38,1120.26 646.90,1116.90C647.42,1116.90 648.59,1116.90 649.20,1119.10C649.81,1124.27 650.89,1146.23 651.50,1155.70C652.11,1165.17 653.35,1179.42 653.80,1190.10C654.25,1200.78 654.61,1222.08 654.90,1235.80C655.19,1249.52 655.55,1277.75 656.00,1293.00C656.45,1308.25 657.69,1334.96 658.30,1350.20C658.91,1365.44 659.99,1393.58 660.60,1407.30C661.21,1421.02 662.14,1440.29 662.90,1453.10C663.66,1465.91 665.23,1494.87 666.30,1503.40C667.37,1511.93 669.22,1515.27 670.90,1517.10C672.58,1517.10 677.23,1517.10 678.90,1517.10C680.57,1516.33 682.27,1513.46 683.40,1511.30C684.53,1509.14 686.17,1510.18 687.40,1500.90C688.63,1491.62 691.44,1460.27 692.60,1441.70C693.76,1423.13 695.18,1376.85 696.10,1361.60C697.02,1346.35 698.90,1342.55 699.50,1327.30C700.10,1312.05 700.15,1265.49 700.60,1247.20C701.05,1228.91 702.22,1203.82 702.90,1190.10C703.58,1176.38 705.09,1152.09 705.70,1144.30C706.31,1136.51 706.95,1131.70 707.50,1131.70C708.05,1131.70 709.19,1134.99 709.80,1144.30C710.41,1153.61 711.49,1184.73 712.10,1201.50C712.71,1218.27 713.95,1253.33 714.40,1270.10C714.85,1286.87 715.19,1309.01 715.50,1327.30C715.81,1345.59 716.25,1390.53 716.70,1407.30C717.15,1424.07 718.14,1442.73 718.90,1453.10C719.66,1463.47 721.48,1479.01 722.40,1485.10C723.32,1491.19 724.79,1495.63 725.80,1498.80C726.81,1501.97 728.93,1506.06 730.00,1508.90C731.07,1511.74 733.13,1518.39 733.80,1520.10C734.47,1521.70 734.55,1521.70 735.00,1521.70C735.45,1520.53 736.59,1512.83 737.20,1511.30C737.81,1510.20 738.75,1510.20 739.60,1510.20C740.45,1510.52 742.64,1513.66 743.60,1513.70C744.56,1513.70 745.84,1510.50 746.80,1510.50C747.76,1510.61 749.84,1514.50 750.80,1514.50C751.76,1514.39 752.93,1509.81 754.00,1509.70C755.07,1509.70 757.52,1512.53 758.80,1513.70C760.08,1514.87 762.31,1517.54 763.60,1518.50C764.89,1519.46 766.63,1520.55 768.50,1520.90C770.37,1521.10 775.79,1521.07 777.60,1521.10C779.41,1521.10 780.69,1521.10 782.10,1521.10C783.51,1521.70 786.59,1524.69 788.20,1525.60C789.81,1526.51 792.59,1527.90 794.20,1527.90C795.81,1527.90 798.67,1526.65 800.30,1525.60C801.93,1524.55 805.08,1520.95 806.40,1520.00C807.72,1519.05 808.99,1518.50 810.20,1518.50C811.41,1518.85 813.59,1521.65 815.50,1522.60C817.41,1523.55 822.29,1525.25 824.50,1525.60C826.71,1525.60 830.07,1525.55 832.10,1525.20C834.13,1524.85 837.87,1523.65 839.70,1523.00C841.53,1522.35 844.49,1521.37 845.80,1520.30C847.11,1519.23 848.39,1515.81 849.50,1515.00C850.61,1514.20 852.67,1514.20 854.10,1514.20C855.53,1514.51 858.59,1516.29 860.20,1517.30C861.81,1518.31 864.69,1520.96 866.20,1521.80C867.71,1522.64 869.78,1523.49 871.50,1523.60C873.22,1523.60 877.27,1522.93 879.10,1522.60C880.93,1522.27 883.59,1521.81 885.20,1521.10C886.81,1520.39 889.79,1518.71 891.20,1517.30C892.61,1515.89 894.89,1511.91 895.80,1510.50C896.71,1509.09 897.40,1507.01 898.00,1506.70C898.60,1506.70 899.69,1507.29 900.30,1508.20C900.91,1509.11 901.59,1512.90 902.60,1513.50C903.61,1513.50 906.39,1513.25 907.90,1512.70C909.41,1512.15 912.59,1509.49 913.90,1509.40C915.21,1509.40 916.69,1511.76 917.70,1512.00C918.71,1512.00 920.69,1512.00 921.50,1511.20C922.31,1510.08 923.29,1504.85 923.80,1503.60C924.31,1502.35 924.79,1501.80 925.30,1501.80C925.81,1502.21 927.20,1505.05 927.60,1506.70C928.00,1508.35 927.60,1512.59 928.30,1514.20C929.17,1515.81 932.51,1517.39 934.10,1518.80C935.69,1520.21 938.59,1523.23 940.20,1524.80C941.81,1526.37 944.89,1528.88 946.20,1530.60C947.51,1532.32 948.99,1537.42 950.00,1537.70C951.01,1537.70 952.89,1532.70 953.80,1532.70C954.71,1532.70 955.79,1536.22 956.80,1537.70C957.81,1539.18 960.19,1542.19 961.40,1543.80C962.61,1545.41 964.29,1548.69 965.90,1549.80C967.51,1550.91 971.47,1552.10 973.50,1552.10C975.53,1552.10 979.29,1550.71 981.10,1549.80C982.91,1548.89 985.79,1546.41 987.10,1545.30C988.41,1544.19 988.87,1542.10 990.90,1541.50C992.93,1540.90 999.98,1540.80 1002.30,1540.80C1004.62,1541.41 1006.99,1544.59 1008.30,1546.10C1009.61,1547.61 1010.69,1550.85 1012.10,1552.10C1013.51,1553.35 1016.98,1554.85 1018.90,1555.50C1020.82,1556.15 1020.03,1556.80 1026.50,1557.00C1032.97,1557.00 1061.75,1557.00 1067.40,1557.00C1068.90,1557.20 1067.40,1558.30 1068.90,1558.50C1071.83,1558.50 1086.67,1558.50 1089.40,1558.50" fill="none" stroke="#0a4fbc" stroke-width="2.2" stroke-linejoin="round"/>
<path d="M116.20,1700.10C117.16,1700.01 121.55,1699.69 123.40,1699.40C125.25,1699.11 128.17,1698.63 130.10,1697.90C132.03,1697.17 136.42,1694.14 137.90,1693.90C139.38,1693.90 140.01,1695.95 141.20,1696.10C142.39,1696.10 145.32,1695.00 146.80,1695.00C148.28,1695.29 150.67,1697.50 152.30,1698.30C153.93,1699.10 157.51,1700.64 159.00,1701.00C160.49,1701.00 162.46,1701.00 163.50,1701.00C164.54,1700.49 165.32,1697.56 166.80,1697.20C168.28,1697.20 172.07,1698.01 174.60,1698.30C177.13,1698.59 181.93,1699.25 185.80,1699.40C189.67,1699.40 199.75,1699.40 203.60,1699.40C207.45,1699.20 212.47,1698.63 214.70,1697.90C216.93,1697.17 218.81,1694.89 220.30,1693.90C221.79,1692.91 224.86,1690.50 225.90,1690.50C226.94,1690.50 226.91,1693.90 228.10,1693.90C229.29,1693.81 233.01,1690.69 234.80,1689.80C236.59,1688.91 240.31,1687.20 241.50,1687.20C242.69,1687.44 242.51,1691.31 243.70,1691.60C244.89,1691.60 248.17,1689.69 250.40,1689.40C252.63,1689.40 258.63,1689.40 260.40,1689.40C262.17,1688.65 262.66,1684.40 263.70,1683.80C264.74,1683.80 267.16,1683.80 268.20,1684.90C269.24,1686.18 270.46,1692.65 271.50,1693.40C272.54,1693.40 274.51,1691.18 276.00,1690.50C277.49,1689.82 280.77,1688.69 282.70,1688.30C284.63,1687.91 289.14,1688.30 290.50,1687.60C291.86,1685.79 292.27,1683.29 292.90,1674.70C293.53,1666.11 294.43,1630.39 295.20,1623.20C295.97,1620.80 297.91,1623.20 298.70,1620.80C299.49,1615.17 300.47,1595.67 301.10,1581.00C301.73,1566.33 302.84,1532.65 303.40,1510.80C303.96,1488.95 304.83,1437.41 305.30,1417.10C305.77,1396.79 306.27,1369.11 306.90,1358.50C307.53,1347.89 309.21,1337.50 310.00,1337.50C310.79,1339.07 312.12,1353.45 312.80,1370.30C313.48,1387.15 314.54,1438.93 315.10,1463.90C315.66,1488.87 316.53,1534.17 317.00,1557.60C317.47,1581.03 317.91,1623.99 318.60,1639.60C319.29,1655.21 321.11,1667.99 322.20,1674.70C323.29,1681.41 324.93,1687.87 326.80,1689.90C328.67,1689.90 333.69,1689.90 336.20,1689.90C338.71,1689.59 343.57,1689.00 345.60,1687.60C347.63,1686.20 350.16,1684.24 351.40,1679.40C352.64,1674.56 353.95,1664.42 354.90,1651.30C355.85,1638.18 357.71,1602.85 358.50,1581.00C359.29,1559.15 360.19,1512.37 360.80,1487.40C361.41,1462.43 362.38,1414.31 363.10,1393.70C363.82,1373.09 365.41,1335.92 366.20,1332.80C366.99,1332.80 368.16,1349.69 369.00,1370.30C369.84,1390.91 371.73,1459.31 372.50,1487.40C373.27,1515.49 374.01,1556.03 374.80,1581.00C375.59,1605.97 376.99,1659.71 378.40,1674.70C379.81,1689.69 383.21,1691.21 385.40,1693.40C387.59,1693.40 393.08,1692.34 394.80,1691.10C396.52,1689.86 397.37,1689.41 398.30,1684.10C399.23,1678.79 401.03,1668.17 401.80,1651.30C402.57,1634.43 403.47,1582.59 404.10,1557.60C404.73,1532.61 405.87,1488.87 406.50,1463.90C407.13,1438.93 408.19,1392.15 408.80,1370.30C409.41,1348.45 410.39,1315.95 411.10,1300.00C411.81,1284.05 413.31,1252.03 414.10,1250.70C414.89,1250.70 416.15,1274.05 417.00,1290.00C417.85,1305.95 419.87,1340.86 420.50,1370.30C421.13,1399.74 421.23,1478.01 421.70,1510.80C422.17,1543.59 423.23,1597.47 424.00,1616.20C424.77,1634.93 426.41,1642.87 427.50,1651.30C428.59,1659.73 430.63,1673.79 432.20,1679.40C433.77,1685.01 436.98,1691.32 439.30,1693.40C441.62,1695.00 447.37,1695.00 449.60,1695.00C451.83,1694.57 454.71,1692.13 456.00,1690.20C457.29,1688.27 458.65,1684.99 459.30,1680.50C459.95,1676.01 460.47,1663.98 460.90,1656.50C461.33,1649.02 462.07,1629.32 462.50,1624.40C462.93,1619.60 463.57,1620.88 464.10,1619.60C464.63,1618.32 465.97,1618.44 466.50,1614.80C467.03,1611.16 467.78,1599.58 468.10,1592.30C468.42,1585.02 468.75,1573.04 468.90,1560.20C469.05,1547.36 468.90,1515.20 469.20,1496.00C469.60,1476.80 471.31,1435.35 471.90,1416.20C472.49,1397.05 473.17,1363.03 473.60,1352.40C474.03,1341.77 474.54,1337.06 475.10,1336.50C475.66,1336.50 477.24,1337.57 477.80,1348.20C478.36,1358.83 478.99,1398.63 479.30,1416.20C479.61,1433.77 479.78,1465.08 480.10,1480.00C480.42,1494.92 481.27,1516.34 481.70,1528.10C482.13,1539.86 482.98,1555.36 483.30,1568.20C483.62,1581.04 483.67,1611.56 484.10,1624.40C484.53,1637.24 485.75,1657.02 486.50,1664.50C487.25,1671.98 488.63,1676.86 489.70,1680.50C490.77,1684.14 492.57,1689.69 494.50,1691.80C496.43,1693.91 502.05,1695.87 504.20,1696.30C506.35,1696.30 508.47,1695.71 510.60,1695.00C512.73,1694.29 517.96,1692.07 520.20,1691.00C522.44,1689.93 526.01,1688.40 527.40,1687.00C528.79,1685.60 529.84,1683.50 530.60,1680.50C531.36,1677.50 532.55,1668.77 533.10,1664.50C533.65,1660.23 534.27,1655.99 534.70,1648.50C535.13,1641.01 535.98,1622.21 536.30,1608.30C536.62,1594.39 536.78,1561.31 537.10,1544.20C537.42,1527.09 538.33,1497.07 538.70,1480.00C539.07,1462.93 539.33,1433.21 539.90,1416.20C540.47,1399.19 542.29,1362.60 543.00,1352.40C543.71,1342.20 544.63,1339.70 545.20,1339.70C545.77,1341.13 546.74,1347.23 547.30,1363.10C547.86,1378.97 548.84,1436.70 549.40,1458.70C549.96,1480.70 550.90,1514.57 551.50,1528.10C552.10,1541.63 553.37,1551.64 553.90,1560.20C554.43,1568.76 554.97,1583.74 555.50,1592.30C556.03,1600.86 557.37,1615.84 557.90,1624.40C558.43,1632.96 558.97,1649.02 559.50,1656.50C560.03,1663.98 560.94,1675.37 561.90,1680.50C562.86,1685.63 564.77,1692.64 566.70,1695.00C568.63,1697.36 574.25,1697.88 576.40,1698.20C578.55,1698.20 581.31,1698.20 582.80,1697.40C584.29,1696.12 586.43,1691.49 587.60,1688.60C588.77,1685.71 590.96,1681.05 591.60,1675.70C592.24,1670.35 592.08,1655.77 592.40,1648.50C592.72,1641.23 593.15,1625.48 594.00,1621.20C594.85,1616.92 597.95,1621.20 598.80,1616.40C599.65,1610.41 600.08,1588.07 600.40,1576.30C600.72,1564.53 600.88,1540.94 601.20,1528.10C601.52,1515.26 602.48,1493.51 602.80,1480.00C603.12,1466.49 603.21,1442.11 603.60,1426.80C603.99,1411.49 605.26,1373.75 605.70,1365.20C606.14,1362.70 606.47,1362.98 606.90,1362.70C607.33,1362.70 608.49,1362.70 608.90,1363.10C609.31,1368.82 609.52,1392.68 610.00,1405.60C610.48,1418.52 611.91,1441.52 612.50,1460.00C613.09,1478.48 613.83,1528.69 614.40,1544.20C614.97,1559.71 616.25,1567.75 616.80,1576.30C617.35,1584.85 618.06,1599.75 618.50,1608.30C618.94,1616.85 619.57,1631.84 620.10,1640.40C620.63,1648.96 621.65,1666.83 622.50,1672.50C623.35,1678.17 625.54,1682.26 626.50,1682.90C627.46,1682.90 629.06,1682.90 629.70,1677.30C630.34,1671.63 630.87,1648.09 631.30,1640.40C631.73,1632.71 632.15,1622.59 632.90,1619.60C633.65,1618.00 636.15,1619.60 636.90,1618.00C637.65,1613.29 638.07,1596.29 638.50,1584.30C638.93,1572.31 639.67,1542.01 640.10,1528.10C640.53,1514.19 641.25,1496.11 641.70,1480.00C642.15,1463.89 643.02,1429.18 643.50,1407.30C643.98,1385.42 644.85,1334.03 645.30,1315.90C645.75,1297.77 646.38,1274.97 646.90,1271.30C647.42,1271.30 648.59,1279.41 649.20,1288.40C649.81,1297.39 650.89,1321.31 651.50,1338.70C652.11,1356.09 653.40,1393.55 653.80,1418.80C654.20,1444.05 654.07,1507.10 654.50,1528.10C654.93,1549.10 656.45,1565.61 657.00,1576.30C657.55,1586.99 658.17,1599.75 658.60,1608.30C659.03,1616.85 659.67,1631.84 660.20,1640.40C660.73,1648.96 661.85,1665.86 662.60,1672.50C663.35,1679.14 664.73,1686.99 665.80,1690.20C666.87,1693.41 668.68,1695.85 670.60,1696.60C672.52,1696.60 678.28,1696.60 680.20,1695.80C682.12,1694.95 683.72,1691.59 685.00,1690.20C686.28,1688.81 688.72,1687.12 689.80,1685.40C690.88,1683.68 692.34,1682.22 693.10,1677.30C693.86,1672.38 694.86,1655.55 695.50,1648.50C696.14,1641.45 697.15,1629.32 697.90,1624.40C698.65,1619.48 700.57,1620.16 701.10,1611.60C701.63,1603.04 701.69,1577.75 701.90,1560.20C702.11,1542.65 702.26,1503.43 702.70,1480.00C703.14,1456.57 704.56,1401.81 705.20,1384.50C705.84,1367.19 706.95,1356.31 707.50,1350.20C708.05,1344.09 708.69,1338.70 709.30,1338.70C709.91,1343.27 711.42,1369.25 712.10,1384.50C712.78,1399.75 713.95,1433.95 714.40,1453.10C714.85,1472.25 715.14,1511.67 715.50,1528.10C715.86,1544.53 716.67,1561.33 717.10,1576.30C717.53,1591.27 718.27,1627.57 718.70,1640.40C719.13,1653.23 719.66,1666.29 720.30,1672.50C720.94,1678.71 722.21,1684.85 723.50,1687.00C724.79,1688.60 728.71,1687.75 730.00,1688.60C731.29,1689.45 732.35,1693.40 733.20,1693.40C734.05,1692.97 735.65,1687.01 736.40,1685.40C737.15,1683.79 737.95,1681.30 738.80,1681.30C739.65,1681.51 741.63,1685.81 742.80,1687.00C743.97,1688.19 746.43,1689.35 747.60,1690.20C748.77,1691.05 750.64,1692.97 751.60,1693.40C752.56,1693.40 753.84,1693.40 754.80,1693.40C755.76,1693.83 756.97,1696.00 758.80,1696.60C760.63,1697.20 766.35,1697.58 768.50,1697.90C770.65,1698.22 773.09,1698.84 774.90,1699.00C776.71,1699.10 780.73,1699.00 782.10,1699.10C783.47,1699.31 783.99,1700.20 785.20,1700.60C786.41,1701.00 789.19,1701.90 791.20,1702.10C793.21,1702.10 798.27,1702.10 800.30,1702.10C802.33,1701.70 804.99,1699.74 806.40,1699.10C807.81,1698.46 809.69,1697.30 810.90,1697.30C812.11,1697.39 813.89,1699.60 815.50,1699.80C817.11,1699.80 821.19,1698.80 823.00,1698.80C824.81,1698.80 827.27,1699.80 829.10,1699.80C830.93,1699.80 834.58,1699.00 836.70,1698.80C838.82,1698.60 843.08,1698.80 845.00,1698.30C846.92,1697.73 849.38,1694.83 851.10,1694.50C852.82,1694.50 856.39,1695.59 857.90,1695.80C859.41,1696.01 861.19,1695.80 862.40,1696.10C863.61,1696.54 865.79,1698.61 867.00,1699.10C868.21,1699.59 870.29,1699.80 871.50,1699.80C872.71,1699.76 874.27,1698.93 876.10,1698.80C877.93,1698.80 883.19,1698.80 885.20,1698.80C887.21,1698.23 889.79,1695.67 891.20,1694.50C892.61,1693.33 894.79,1691.11 895.80,1690.00C896.81,1688.89 898.00,1686.20 898.80,1686.20C899.60,1686.31 899.79,1690.19 901.80,1690.80C903.81,1690.80 911.37,1690.80 913.90,1690.80C916.43,1690.80 919.48,1690.80 920.80,1690.80C922.12,1689.88 923.09,1684.71 923.80,1683.90C924.51,1683.90 925.50,1683.90 926.10,1684.70C926.70,1685.51 927.85,1688.19 928.30,1690.00C928.75,1691.81 928.73,1697.29 929.50,1698.30C930.27,1698.30 932.27,1697.60 934.10,1697.60C935.93,1697.71 941.08,1698.34 943.20,1699.10C945.32,1699.86 948.49,1703.10 950.00,1703.30C951.51,1703.30 953.19,1700.60 954.50,1700.60C955.81,1700.85 957.88,1704.19 959.80,1705.20C961.72,1706.21 966.27,1707.80 968.90,1708.20C971.53,1708.20 976.66,1708.20 979.50,1708.20C982.34,1707.80 986.56,1705.60 990.20,1705.20C993.84,1705.20 1003.77,1705.20 1006.80,1705.20C1009.83,1705.80 1010.87,1708.90 1012.90,1709.70C1014.93,1710.50 1016.35,1710.89 1022.00,1711.20C1027.65,1711.51 1049.65,1711.69 1055.30,1712.00C1060.95,1712.31 1059.85,1713.25 1064.40,1713.50C1068.95,1713.75 1086.07,1713.85 1089.40,1713.90" fill="none" stroke="#00c040" stroke-width="2.2" stroke-linejoin="round"/>
<path d="M116.20,1719.50C117.16,1719.50 121.55,1719.50 123.40,1719.50C125.25,1719.19 128.17,1717.95 130.10,1717.20C132.03,1716.45 136.27,1714.10 137.90,1713.90C139.53,1713.90 140.82,1715.41 142.30,1715.70C143.78,1715.99 147.21,1715.70 149.00,1716.10C150.79,1716.51 153.91,1718.20 155.70,1718.80C157.49,1719.40 160.92,1720.60 162.40,1720.60C163.88,1720.31 165.17,1717.20 166.80,1716.60C168.43,1716.10 172.67,1716.10 174.60,1716.10C176.53,1716.18 179.22,1716.75 181.30,1717.20C183.38,1717.65 187.52,1719.29 190.20,1719.50C192.88,1719.50 198.13,1719.01 201.40,1718.80C204.67,1718.59 211.74,1718.80 214.70,1717.90C217.66,1716.81 221.07,1712.27 223.60,1710.60C226.13,1708.93 231.31,1705.85 233.70,1705.40C236.09,1705.40 240.02,1706.36 241.50,1707.20C242.98,1708.04 243.32,1711.25 244.80,1711.70C246.28,1711.70 250.52,1710.75 252.60,1710.60C254.68,1710.60 258.61,1710.60 260.40,1710.60C262.19,1709.61 264.52,1703.95 266.00,1703.20C267.48,1703.20 270.31,1704.17 271.50,1705.00C272.69,1705.83 273.86,1709.40 274.90,1709.40C275.94,1709.11 277.97,1704.57 279.30,1702.80C280.63,1701.03 283.55,1696.85 284.90,1696.10C286.25,1696.10 288.36,1697.20 289.40,1697.20C290.44,1696.01 292.07,1690.20 292.70,1687.20C293.33,1684.20 293.61,1680.11 294.10,1674.70C294.59,1669.29 295.63,1650.03 296.40,1646.60C297.17,1646.60 299.13,1649.00 299.90,1649.00C300.67,1640.25 301.57,1599.43 302.20,1581.00C302.83,1562.57 303.97,1529.53 304.60,1510.80C305.23,1492.07 306.18,1455.18 306.90,1440.50C307.62,1425.82 309.21,1400.70 310.00,1400.70C310.79,1400.70 312.12,1422.70 312.80,1440.50C313.48,1458.30 314.47,1509.21 315.10,1534.20C315.73,1559.19 316.55,1607.91 317.50,1627.90C318.45,1647.89 320.80,1674.27 322.20,1684.10C323.60,1693.93 326.13,1699.57 328.00,1701.60C329.87,1701.60 333.85,1699.77 336.20,1699.30C338.55,1698.83 343.41,1699.30 345.60,1698.10C347.79,1696.70 351.20,1693.48 352.60,1688.80C354.00,1684.12 355.31,1677.37 356.10,1663.00C356.89,1648.63 357.87,1607.55 358.50,1581.00C359.13,1554.45 360.19,1491.99 360.80,1463.90C361.41,1435.81 362.31,1389.97 363.10,1370.30C363.89,1350.63 365.75,1317.97 366.70,1316.40C367.65,1316.40 369.43,1338.83 370.20,1358.50C370.97,1378.17 371.89,1434.23 372.50,1463.90C373.11,1493.57 374.01,1552.89 374.80,1581.00C375.59,1609.11 377.15,1659.09 378.40,1674.70C379.65,1690.31 382.64,1694.66 384.20,1698.10C385.76,1700.50 388.38,1700.50 390.10,1700.50C391.82,1700.19 395.70,1699.24 397.10,1695.80C398.50,1692.36 399.67,1690.01 400.60,1674.70C401.53,1659.39 403.17,1615.35 404.10,1581.00C405.03,1546.65 406.67,1449.89 407.60,1417.10C408.53,1384.31 410.25,1348.83 411.10,1335.10C411.95,1321.37 413.21,1314.10 414.00,1314.10C414.79,1315.66 416.29,1329.95 417.00,1346.80C417.71,1363.65 418.67,1409.27 419.30,1440.50C419.93,1471.73 420.91,1552.89 421.70,1581.00C422.49,1609.11 423.95,1636.31 425.20,1651.30C426.45,1666.29 429.22,1685.91 431.10,1693.40C432.98,1700.89 436.94,1705.15 439.30,1707.50C441.66,1709.85 446.79,1710.85 448.80,1711.00C450.81,1711.00 453.23,1709.88 454.40,1708.60C455.57,1707.32 456.84,1705.15 457.60,1701.40C458.36,1697.65 459.55,1686.49 460.10,1680.50C460.65,1674.51 461.38,1660.98 461.70,1656.50C462.02,1652.02 461.86,1648.83 462.50,1646.90C463.14,1644.97 465.86,1645.00 466.50,1642.00C467.14,1639.00 466.98,1628.89 467.30,1624.40C467.62,1619.91 468.58,1618.99 468.90,1608.30C469.22,1597.61 469.30,1566.99 469.70,1544.20C470.10,1521.41 471.25,1458.01 471.90,1437.40C472.55,1416.79 473.76,1393.84 474.60,1389.60C475.44,1389.60 477.47,1393.55 478.20,1405.60C478.93,1417.65 479.69,1462.08 480.10,1480.00C480.51,1497.92 480.98,1525.03 481.30,1540.00C481.62,1554.97 482.30,1577.83 482.50,1592.30C482.70,1606.77 482.50,1637.81 482.80,1648.50C483.12,1659.19 484.41,1667.58 484.90,1672.50C485.39,1677.42 485.22,1681.33 486.50,1685.40C487.78,1689.47 492.35,1699.80 494.50,1703.00C496.65,1706.20 500.24,1708.51 502.60,1709.40C504.96,1709.70 509.64,1709.70 512.20,1709.70C514.76,1709.06 519.67,1705.71 521.80,1704.60C523.93,1703.49 526.69,1703.53 528.20,1701.40C529.71,1699.27 532.13,1692.45 533.10,1688.60C534.07,1684.75 534.97,1678.93 535.50,1672.50C536.03,1666.07 536.78,1653.23 537.10,1640.40C537.42,1627.57 537.58,1593.41 537.90,1576.30C538.22,1559.19 538.95,1530.62 539.50,1512.10C540.05,1493.58 541.24,1453.44 542.00,1437.40C542.76,1421.36 544.36,1394.63 545.20,1391.80C546.04,1391.80 547.78,1404.44 548.30,1416.20C548.82,1427.96 548.78,1460.80 549.10,1480.00C549.42,1499.20 550.27,1543.09 550.70,1560.20C551.13,1577.31 551.77,1599.74 552.30,1608.30C552.83,1616.86 554.06,1617.97 554.70,1624.40C555.34,1630.83 556.57,1648.59 557.10,1656.50C557.63,1664.41 558.06,1678.35 558.70,1683.70C559.34,1689.05 560.83,1693.81 561.90,1696.60C562.97,1699.39 565.19,1703.11 566.70,1704.60C568.21,1706.09 571.48,1707.59 573.20,1707.80C574.92,1707.80 577.89,1707.27 579.60,1706.20C581.31,1705.13 584.51,1701.72 586.00,1699.80C587.49,1697.88 589.84,1693.95 590.80,1691.80C591.76,1689.65 592.77,1690.55 593.20,1683.70C593.63,1676.85 593.79,1646.71 594.00,1640.40C594.21,1636.40 594.16,1637.25 594.80,1636.40C595.44,1635.55 598.05,1636.03 598.80,1634.00C599.55,1631.97 600.08,1631.04 600.40,1621.20C600.72,1611.36 600.77,1577.63 601.20,1560.20C601.63,1542.77 602.92,1502.47 603.60,1490.50C604.28,1478.53 605.65,1470.40 606.30,1470.40C606.95,1471.13 608.06,1490.44 608.50,1496.00C608.94,1501.56 609.24,1503.54 609.60,1512.10C609.96,1520.66 610.77,1548.44 611.20,1560.20C611.63,1571.96 612.16,1591.74 612.80,1600.30C613.44,1608.86 615.36,1617.97 616.00,1624.40C616.64,1630.83 617.05,1641.02 617.60,1648.50C618.15,1655.98 619.23,1675.15 620.10,1680.50C620.97,1685.85 623.14,1687.20 624.10,1688.60C625.06,1690.00 626.45,1691.00 627.30,1691.00C628.15,1690.57 629.86,1690.00 630.50,1685.40C631.14,1680.80 631.67,1663.99 632.10,1656.50C632.53,1649.01 632.95,1632.84 633.70,1629.20C634.45,1629.20 636.95,1629.20 637.70,1629.20C638.45,1624.28 638.87,1605.78 639.30,1592.30C639.73,1578.82 640.47,1543.07 640.90,1528.10C641.33,1513.13 642.02,1497.08 642.50,1480.00C642.98,1462.92 643.91,1421.73 644.50,1400.00C645.09,1378.27 646.13,1322.12 646.90,1317.00C647.67,1317.00 649.54,1346.51 650.30,1361.60C651.06,1376.69 652.15,1408.00 652.60,1430.20C653.05,1452.40 653.33,1506.49 653.70,1528.10C654.07,1549.71 654.96,1580.53 655.40,1592.30C655.84,1604.07 656.68,1608.91 657.00,1616.40C657.32,1623.89 657.27,1639.95 657.80,1648.50C658.33,1657.05 660.15,1673.45 661.00,1680.50C661.85,1687.55 662.92,1697.65 664.20,1701.40C665.48,1705.15 668.47,1707.64 670.60,1708.60C672.73,1708.60 678.28,1708.60 680.20,1708.60C682.12,1707.64 683.72,1704.07 685.00,1701.40C686.28,1698.73 688.61,1692.45 689.80,1688.60C690.99,1684.75 693.03,1678.93 693.90,1672.50C694.77,1666.07 695.77,1647.88 696.30,1640.40C696.83,1632.92 697.37,1620.68 697.90,1616.40C698.43,1612.12 699.87,1616.40 700.30,1608.30C700.73,1598.67 700.78,1561.31 701.10,1544.20C701.42,1527.09 702.15,1501.29 702.70,1480.00C703.25,1458.71 704.56,1402.57 705.20,1384.50C705.84,1366.43 706.74,1344.50 707.50,1344.50C708.26,1344.50 710.15,1367.77 710.90,1384.50C711.65,1401.23 712.59,1448.71 713.10,1470.00C713.61,1491.29 714.27,1519.33 714.70,1544.20C715.13,1569.07 715.77,1638.33 716.30,1656.50C716.83,1674.67 718.06,1675.58 718.70,1680.50C719.34,1685.42 720.25,1690.83 721.10,1693.40C721.95,1695.97 723.81,1698.95 725.10,1699.80C726.39,1699.80 729.72,1699.80 730.80,1699.80C731.88,1700.44 732.45,1704.60 733.20,1704.60C733.95,1704.17 735.65,1698.52 736.40,1696.60C737.15,1694.68 737.73,1690.41 738.80,1690.20C739.87,1690.20 742.91,1693.83 744.40,1695.00C745.89,1696.17 748.72,1698.68 750.00,1699.00C751.28,1699.00 752.61,1697.40 754.00,1697.40C755.39,1697.72 758.47,1700.33 760.40,1701.40C762.33,1702.47 766.41,1705.00 768.50,1705.40C770.59,1705.40 774.29,1704.73 776.10,1704.40C777.91,1704.07 780.29,1702.90 782.10,1702.90C783.91,1703.30 786.87,1706.80 789.70,1707.40C792.53,1707.40 800.67,1707.40 803.30,1707.40C805.93,1707.11 807.57,1705.20 809.40,1705.20C811.23,1705.40 813.56,1708.34 817.00,1708.90C820.44,1709.40 831.36,1709.40 835.20,1709.40C839.04,1709.00 843.59,1706.77 845.80,1705.90C848.01,1705.03 849.79,1703.10 851.80,1702.90C853.81,1702.90 858.67,1703.80 860.90,1704.40C863.13,1705.00 866.47,1706.73 868.50,1707.40C870.53,1708.07 873.87,1709.13 876.10,1709.40C878.33,1709.40 883.19,1709.40 885.20,1709.40C887.21,1708.93 889.79,1706.97 891.20,1705.90C892.61,1704.83 894.69,1702.31 895.80,1701.40C896.91,1700.49 898.59,1699.10 899.50,1699.10C900.41,1699.50 901.68,1704.20 902.60,1704.40C903.52,1704.40 905.09,1702.01 906.40,1700.60C907.71,1699.19 910.99,1695.01 912.40,1693.80C913.81,1692.59 915.88,1691.70 917.00,1691.50C918.12,1691.50 919.80,1692.30 920.80,1692.30C921.80,1691.70 923.70,1687.11 924.50,1687.00C925.30,1687.00 926.29,1689.58 926.80,1691.50C927.31,1693.42 927.33,1699.57 928.30,1701.40C929.27,1703.23 932.51,1704.40 934.10,1705.20C935.69,1706.00 938.48,1706.91 940.20,1707.40C941.92,1707.89 945.69,1708.39 947.00,1708.90C948.31,1709.41 949.09,1711.20 950.00,1711.20C950.91,1711.11 952.49,1708.20 953.80,1708.20C955.11,1708.31 957.79,1711.20 959.80,1712.00C961.81,1712.80 966.47,1713.87 968.90,1714.20C971.33,1714.50 975.37,1714.50 978.00,1714.50C980.63,1714.21 984.76,1712.40 988.60,1712.00C992.44,1711.60 1003.56,1711.50 1006.80,1711.50C1010.04,1712.01 1007.03,1715.23 1012.90,1715.80C1018.77,1715.80 1044.75,1715.80 1050.80,1715.80C1056.85,1716.09 1053.15,1717.64 1058.30,1718.00C1063.45,1718.36 1085.25,1718.43 1089.40,1718.50" fill="none" stroke="#ff1a55" stroke-width="2.2" stroke-linejoin="round"/>
<rect x="772.9" y="1113.2" width="306.5" height="93.6" fill="#fff" stroke="#999" stroke-width="1.2"/>
<line x1="785.20" y1="1131.60" x2="811.10" y2="1131.60" stroke="#ff2020" stroke-width="3.0"/>
<line x1="785.20" y1="1159.90" x2="811.10" y2="1159.90" stroke="#00b050" stroke-width="3.0"/>
<line x1="785.20" y1="1187.70" x2="811.10" y2="1187.70" stroke="#2020ff" stroke-width="3.0"/>
<text x="24.81" y="31.40" font-size="24.0" font-family="Liberation Sans" fill="#111" textLength="111.26" lengthAdjust="spacingAndGlyphs">RMSE (m)</text>
<text x="75.20" y="61.80" font-size="24.0" font-family="Liberation Sans" fill="#111" textLength="59.60" lengthAdjust="spacingAndGlyphs">0.030</text>
<text x="74.80" y="152.70" font-size="24.0" font-family="Liberation Sans" fill="#111" textLength="59.60" lengthAdjust="spacingAndGlyphs">0.025</text>
<text x="74.80" y="243.30" font-size="24.0" font-family="Liberation Sans" fill="#111" textLength="59.60" lengthAdjust="spacingAndGlyphs">0.020</text>
<text x="74.80" y="333.70" font-size="24.0" font-family="Liberation Sans" fill="#111" textLength="59.60" lengthAdjust="spacingAndGlyphs">0.015</text>
<text x="113.25" y="447.60" font-size="24.0" font-family="Liberation Sans" fill="#111" textLength="87.48" lengthAdjust="spacingAndGlyphs">410,000</text>
<text x="262.59" y="447.60" font-size="24.0" font-family="Liberation Sans" fill="#111" textLength="87.48" lengthAdjust="spacingAndGlyphs">410,100</text>
<text x="412.45" y="447.80" font-size="24.0" font-family="Liberation Sans" fill="#111" textLength="87.48" lengthAdjust="spacingAndGlyphs">410,200</text>
<text x="561.60" y="446.60" font-size="24.0" font-family="Liberation Sans" fill="#111" textLength="87.48" lengthAdjust="spacingAndGlyphs">410,300</text>
<text x="709.84" y="446.90" font-size="24.0" font-family="Liberation Sans" fill="#111" textLength="87.48" lengthAdjust="spacingAndGlyphs">410,400</text>
<text x="859.80" y="446.90" font-size="24.0" font-family="Liberation Sans" fill="#111" textLength="87.48" lengthAdjust="spacingAndGlyphs">410,500</text>
<text x="986.60" y="446.90" font-size="24.0" font-family="Liberation Sans" fill="#111" textLength="112.15" lengthAdjust="spacingAndGlyphs">Time (sec)</text>
<text x="764.57" y="58.50" font-size="24.0" font-family="Liberation Sans" fill="#ff1010" textLength="271.88" lengthAdjust="spacingAndGlyphs">North position RMSE (m)</text>
<text x="764.59" y="90.50" font-size="24.0" font-family="Liberation Sans" fill="#111" textLength="257.18" lengthAdjust="spacingAndGlyphs">East position RMSE (m)</text>
<text x="326.60" y="104.90" font-size="24.0" font-family="Liberation Sans" fill="#111" textLength="28.02" lengthAdjust="spacingAndGlyphs">T2</text>
<text x="379.40" y="195.70" font-size="24.0" font-family="Liberation Sans" fill="#111" textLength="28.02" lengthAdjust="spacingAndGlyphs">T3</text>
<text x="436.30" y="125.60" font-size="24.0" font-family="Liberation Sans" fill="#111" textLength="28.02" lengthAdjust="spacingAndGlyphs">T4</text>
<text x="491.90" y="47.20" font-size="24.0" font-family="Liberation Sans" fill="#111" textLength="28.02" lengthAdjust="spacingAndGlyphs">T5</text>
<text x="542.10" y="158.00" font-size="24.0" font-family="Liberation Sans" fill="#111" textLength="28.02" lengthAdjust="spacingAndGlyphs">T6</text>
<text x="597.60" y="175.70" font-size="24.0" font-family="Liberation Sans" fill="#111" textLength="28.02" lengthAdjust="spacingAndGlyphs">T7</text>
<text x="635.20" y="135.10" font-size="24.0" font-family="Liberation Sans" fill="#111" textLength="28.02" lengthAdjust="spacingAndGlyphs">T8</text>
<text x="686.90" y="155.60" font-size="24.0" font-family="Liberation Sans" fill="#111" textLength="28.02" lengthAdjust="spacingAndGlyphs">T9</text>
<text x="23.79" y="565.60" font-size="24.0" font-family="Liberation Sans" fill="#111" textLength="112.60" lengthAdjust="spacingAndGlyphs">RMSE (m)</text>
<text x="75.20" y="601.50" font-size="24.6" font-family="Liberation Sans" fill="#111" textLength="60.93" lengthAdjust="spacingAndGlyphs">0.065</text>
<text x="75.20" y="648.60" font-size="24.6" font-family="Liberation Sans" fill="#111" textLength="60.93" lengthAdjust="spacingAndGlyphs">0.064</text>
<text x="75.20" y="695.50" font-size="24.6" font-family="Liberation Sans" fill="#111" textLength="60.93" lengthAdjust="spacingAndGlyphs">0.063</text>
<text x="75.20" y="741.20" font-size="24.6" font-family="Liberation Sans" fill="#111" textLength="60.93" lengthAdjust="spacingAndGlyphs">0.062</text>
<text x="75.20" y="784.10" font-size="24.6" font-family="Liberation Sans" fill="#111" textLength="60.93" lengthAdjust="spacingAndGlyphs">0.061</text>
<text x="75.20" y="828.90" font-size="24.6" font-family="Liberation Sans" fill="#111" textLength="60.93" lengthAdjust="spacingAndGlyphs">0.060</text>
<text x="75.20" y="874.90" font-size="24.6" font-family="Liberation Sans" fill="#111" textLength="60.93" lengthAdjust="spacingAndGlyphs">0.059</text>
<text x="75.20" y="920.20" font-size="24.6" font-family="Liberation Sans" fill="#111" textLength="60.93" lengthAdjust="spacingAndGlyphs">0.058</text>
<text x="75.20" y="964.80" font-size="24.6" font-family="Liberation Sans" fill="#111" textLength="60.93" lengthAdjust="spacingAndGlyphs">0.057</text>
<text x="110.00" y="1004.20" font-size="24.0" font-family="Liberation Sans" fill="#111" textLength="87.07" lengthAdjust="spacingAndGlyphs">410,000</text>
<text x="261.55" y="1004.20" font-size="24.0" font-family="Liberation Sans" fill="#111" textLength="87.07" lengthAdjust="spacingAndGlyphs">410,100</text>
<text x="412.10" y="1004.20" font-size="24.0" font-family="Liberation Sans" fill="#111" textLength="87.07" lengthAdjust="spacingAndGlyphs">410,200</text>
<text x="562.80" y="1003.00" font-size="24.0" font-family="Liberation Sans" fill="#111" textLength="87.07" lengthAdjust="spacingAndGlyphs">410,300</text>
<text x="712.60" y="1005.00" font-size="24.0" font-family="Liberation Sans" fill="#111" textLength="87.07" lengthAdjust="spacingAndGlyphs">410,400</text>
<text x="863.40" y="1004.50" font-size="24.0" font-family="Liberation Sans" fill="#111" textLength="87.07" lengthAdjust="spacingAndGlyphs">410,500</text>
<text x="984.19" y="1003.50" font-size="24.0" font-family="Liberation Sans" fill="#111" textLength="114.78" lengthAdjust="spacingAndGlyphs">Time (sec)</text>
<text x="766.34" y="593.20" font-size="24.0" font-family="Liberation Sans" fill="#ff1010" textLength="276.50" lengthAdjust="spacingAndGlyphs">Down position RMSE (m)</text>
<text x="329.45" y="619.10" font-size="24.0" font-family="Liberation Sans" fill="#111" textLength="28.02" lengthAdjust="spacingAndGlyphs">T2</text>
<text x="384.50" y="669.70" font-size="24.0" font-family="Liberation Sans" fill="#111" textLength="28.02" lengthAdjust="spacingAndGlyphs">T3</text>
<text x="440.65" y="579.40" font-size="24.0" font-family="Liberation Sans" fill="#111" textLength="28.02" lengthAdjust="spacingAndGlyphs">T4</text>
<text x="498.25" y="579.70" font-size="24.0" font-family="Liberation Sans" fill="#111" textLength="28.02" lengthAdjust="spacingAndGlyphs">T5</text>
<text x="566.60" y="739.20" font-size="24.0" font-family="Liberation Sans" fill="#111" textLength="28.02" lengthAdjust="spacingAndGlyphs">T6</text>
<text x="600.75" y="659.10" font-size="24.0" font-family="Liberation Sans" fill="#111" textLength="28.02" lengthAdjust="spacingAndGlyphs">T7</text>
<text x="635.70" y="619.10" font-size="24.0" font-family="Liberation Sans" fill="#111" textLength="28.02" lengthAdjust="spacingAndGlyphs">T8</text>
<text x="690.90" y="669.10" font-size="24.0" font-family="Liberation Sans" fill="#111" textLength="28.02" lengthAdjust="spacingAndGlyphs">T9</text>
<text x="9.96" y="1120.10" font-size="20.6" font-family="Liberation Sans" fill="#111" textLength="98.16" lengthAdjust="spacingAndGlyphs">RMSE (m)</text>
<text x="54.78" y="1174.40" font-size="20.6" font-family="Liberation Sans" fill="#111" textLength="52.58" lengthAdjust="spacingAndGlyphs">0.022</text>
<text x="54.78" y="1238.50" font-size="20.6" font-family="Liberation Sans" fill="#111" textLength="52.58" lengthAdjust="spacingAndGlyphs">0.020</text>
<text x="54.78" y="1302.30" font-size="20.6" font-family="Liberation Sans" fill="#111" textLength="52.58" lengthAdjust="spacingAndGlyphs">0.018</text>
<text x="54.78" y="1365.80" font-size="20.6" font-family="Liberation Sans" fill="#111" textLength="52.58" lengthAdjust="spacingAndGlyphs">0.016</text>
<text x="54.78" y="1430.40" font-size="20.6" font-family="Liberation Sans" fill="#111" textLength="52.58" lengthAdjust="spacingAndGlyphs">0.014</text>
<text x="54.78" y="1494.10" font-size="20.6" font-family="Liberation Sans" fill="#111" textLength="52.58" lengthAdjust="spacingAndGlyphs">0.012</text>
<text x="54.78" y="1558.60" font-size="20.6" font-family="Liberation Sans" fill="#111" textLength="52.58" lengthAdjust="spacingAndGlyphs">0.010</text>
<text x="54.78" y="1622.10" font-size="20.6" font-family="Liberation Sans" fill="#111" textLength="52.58" lengthAdjust="spacingAndGlyphs">0.008</text>
<text x="54.78" y="1685.80" font-size="20.6" font-family="Liberation Sans" fill="#111" textLength="52.58" lengthAdjust="spacingAndGlyphs">0.006</text>
<text x="76.57" y="1755.90" font-size="20.6" font-family="Liberation Sans" fill="#111" textLength="76.23" lengthAdjust="spacingAndGlyphs">410,000</text>
<text x="239.47" y="1755.90" font-size="20.6" font-family="Liberation Sans" fill="#111" textLength="76.23" lengthAdjust="spacingAndGlyphs">410,100</text>
<text x="401.71" y="1755.90" font-size="20.6" font-family="Liberation Sans" fill="#111" textLength="76.23" lengthAdjust="spacingAndGlyphs">410,200</text>
<text x="564.02" y="1755.90" font-size="20.6" font-family="Liberation Sans" fill="#111" textLength="76.23" lengthAdjust="spacingAndGlyphs">410,300</text>
<text x="726.11" y="1755.90" font-size="20.6" font-family="Liberation Sans" fill="#111" textLength="76.23" lengthAdjust="spacingAndGlyphs">410,400</text>
<text x="889.92" y="1755.90" font-size="20.6" font-family="Liberation Sans" fill="#111" textLength="76.23" lengthAdjust="spacingAndGlyphs">410,500</text>
<text x="1014.19" y="1755.60" font-size="20.6" font-family="Liberation Sans" fill="#111" textLength="99.02" lengthAdjust="spacingAndGlyphs">Time (sec)</text>
<text x="821.18" y="1139.60" font-size="20.6" font-family="Liberation Sans" fill="#ff2020" textLength="222.56" lengthAdjust="spacingAndGlyphs">East position RMSE (m)</text>
<text x="821.15" y="1166.30" font-size="20.6" font-family="Liberation Sans" fill="#00b050" textLength="236.68" lengthAdjust="spacingAndGlyphs">North position RMSE (m)</text>
<text x="821.16" y="1194.40" font-size="20.6" font-family="Liberation Sans" fill="#2020ff" textLength="244.10" lengthAdjust="spacingAndGlyphs">Height position RMSE (m)</text>
<text x="280.55" y="1192.60" font-size="20.0" font-family="Liberation Sans" fill="#111" textLength="23.34" lengthAdjust="spacingAndGlyphs">T2</text>
<text x="333.00" y="1158.00" font-size="20.0" font-family="Liberation Sans" fill="#111" textLength="23.34" lengthAdjust="spacingAndGlyphs">T3</text>
<text x="384.15" y="1129.70" font-size="20.0" font-family="Liberation Sans" fill="#111" textLength="23.34" lengthAdjust="spacingAndGlyphs">T4</text>
<text x="464.50" y="1194.20" font-size="20.0" font-family="Liberation Sans" fill="#111" textLength="23.34" lengthAdjust="spacingAndGlyphs">T5</text>
<text x="549.80" y="1189.30" font-size="20.0" font-family="Liberation Sans" fill="#111" textLength="23.34" lengthAdjust="spacingAndGlyphs">T6</text>
<text x="606.20" y="1201.50" font-size="20.0" font-family="Liberation Sans" fill="#111" textLength="23.34" lengthAdjust="spacingAndGlyphs">T7</text>
<text x="617.45" y="1129.40" font-size="20.0" font-family="Liberation Sans" fill="#111" textLength="23.34" lengthAdjust="spacingAndGlyphs">T8</text>
<text x="697.65" y="1129.40" font-size="20.0" font-family="Liberation Sans" fill="#111" textLength="23.34" lengthAdjust="spacingAndGlyphs">T9</text>
<text x="544.05" y="514.90" font-size="34" fill="#000" font-family="Liberation Serif" textLength="37.51" lengthAdjust="spacingAndGlyphs">(<tspan font-weight="bold">a</tspan>)</text>
<text x="542.09" y="1074.00" font-size="34" fill="#000" font-family="Liberation Serif" textLength="42.00" lengthAdjust="spacingAndGlyphs">(<tspan font-weight="bold">b</tspan>)</text>
<text x="544.66" y="1819.00" font-size="34" fill="#000" font-family="Liberation Serif" textLength="35.44" lengthAdjust="spacingAndGlyphs">(<tspan font-weight="bold">c</tspan>)</text>
</svg>
</body></html>
